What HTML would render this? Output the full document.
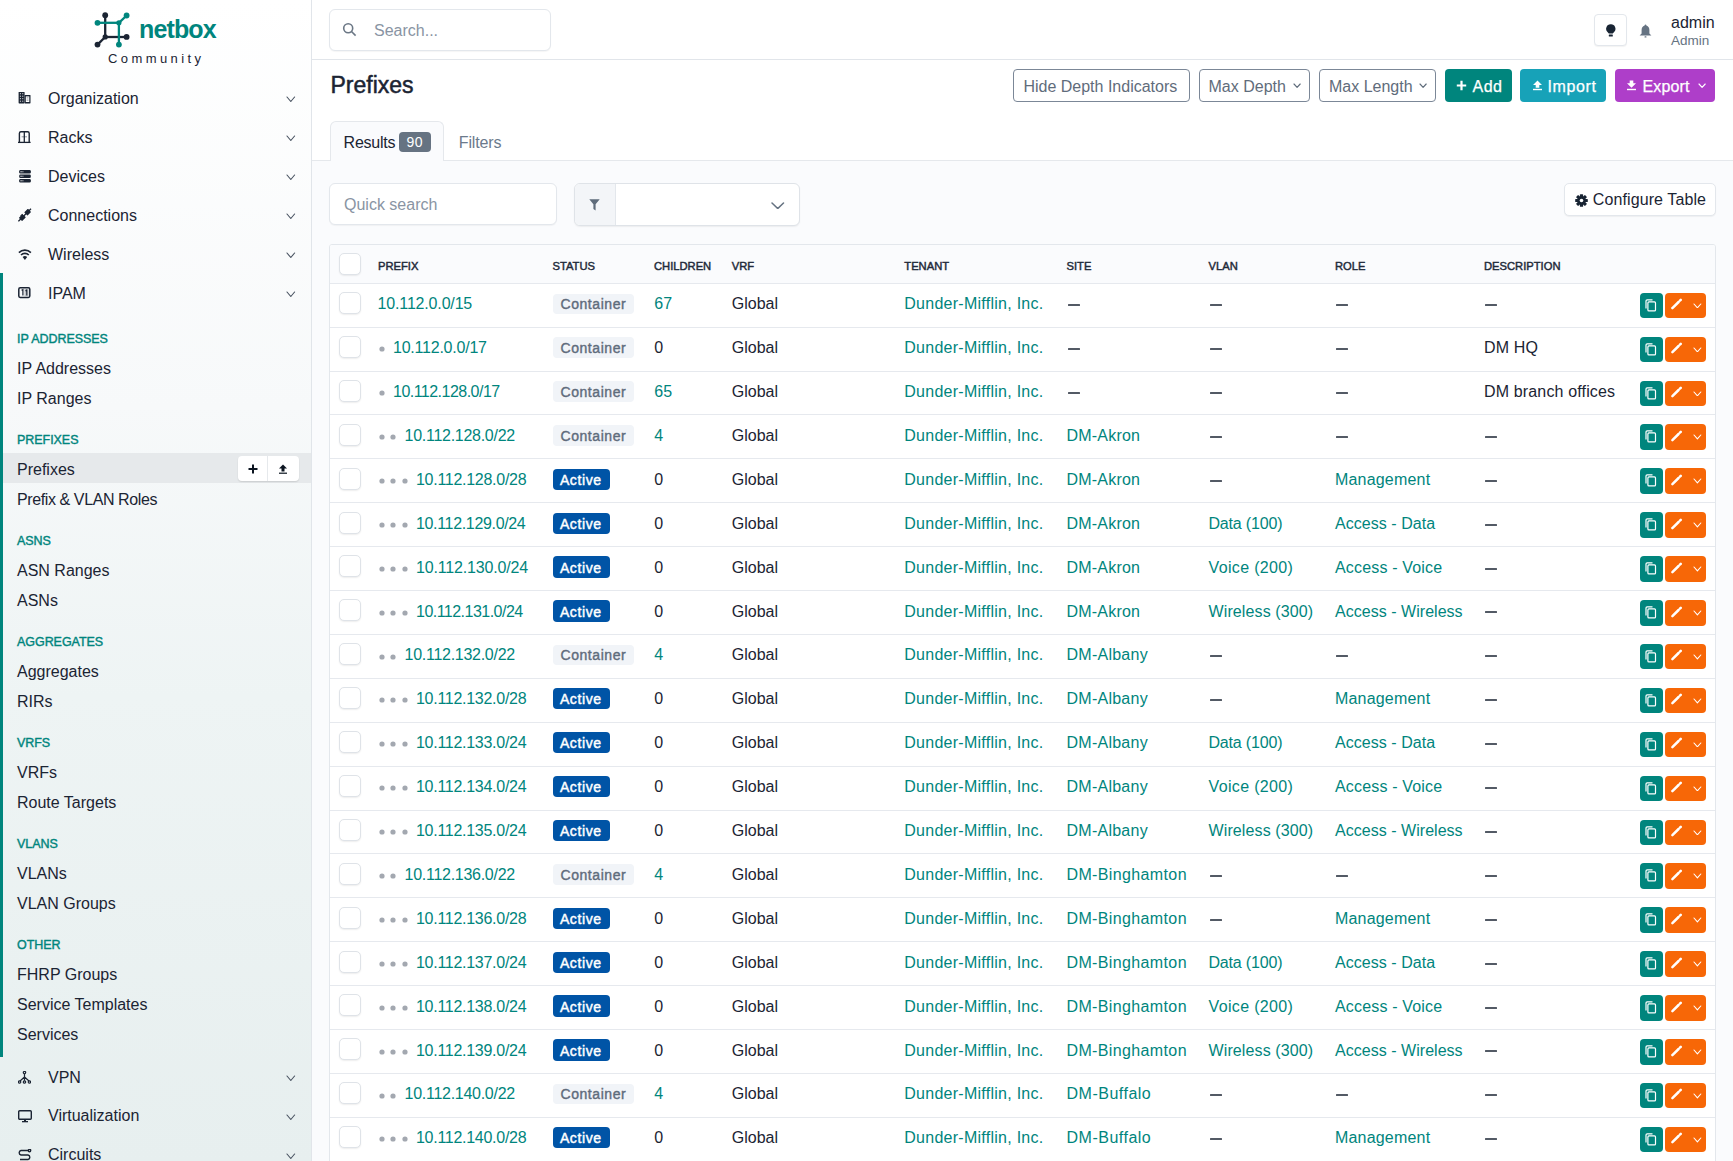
<!DOCTYPE html><html><head><meta charset="utf-8"><style>
html,body{margin:0;padding:0;width:1733px;height:1161px;overflow:hidden;background:#fafbfd;}
body{position:relative;font-family:"Liberation Sans", sans-serif;}
.t{position:absolute;white-space:nowrap;font-family:"Liberation Sans", sans-serif;}
</style></head><body>
<div style="position:absolute;left:312px;top:0px;width:1421px;height:160.5px;background:#ffffff;"></div>
<div style="position:absolute;left:312px;top:59px;width:1421px;height:1px;background:#e1e5ea;"></div>
<div style="position:absolute;left:312px;top:160px;width:1421px;height:1px;background:#e5e8ec;"></div>
<div style="position:absolute;left:0px;top:0px;width:311px;height:1161px;background:linear-gradient(180deg,#ffffff 0%,#f7f9fa 35%,#eef4f4 60%,#e7efef 100%);"></div>
<div style="position:absolute;left:311px;top:0px;width:1px;height:1161px;background:#e1e5ea;"></div>
<div style="position:absolute;left:0px;top:273px;width:3px;height:784px;background:#00857d;"></div>
<div style="position:absolute;left:3px;top:453.2px;width:308px;height:30.3px;background:#e6e9eb;"></div>
<svg style="position:absolute;left:0px;top:0px;" width="311" height="80" viewBox="0 0 311 80">
<g stroke-width="2.3" fill="none">
<line x1="105.2" y1="15" x2="105.2" y2="37" stroke="#1b2433"/>
<line x1="105.2" y1="37" x2="126.6" y2="37" stroke="#1b2433"/>
<line x1="105.2" y1="37" x2="97.5" y2="44.6" stroke="#1b2433"/>
<line x1="97.5" y1="22.8" x2="118.9" y2="22.8" stroke="#00857d"/>
<line x1="118.9" y1="22.8" x2="118.9" y2="44.6" stroke="#00857d"/>
<line x1="118.9" y1="22.8" x2="126.6" y2="15.5" stroke="#00857d"/>
</g>
<circle cx="105.2" cy="15.2" r="2.9" fill="#1b2433"/>
<circle cx="105.2" cy="36.9" r="2.6" fill="#1b2433"/>
<circle cx="126.6" cy="36.9" r="2.9" fill="#1b2433"/>
<circle cx="97.5" cy="44.6" r="2.9" fill="#1b2433"/>
<circle cx="97.5" cy="22.8" r="2.9" fill="#00857d"/>
<circle cx="118.9" cy="22.8" r="2.6" fill="#00857d"/>
<circle cx="126.6" cy="15.5" r="2.9" fill="#00857d"/>
<circle cx="118.9" cy="44.6" r="2.9" fill="#00857d"/>
</svg>
<div class="t" style="left:139px;top:16.60px;font-size:25px;line-height:25px;color:#00857d;font-weight:bold;letter-spacing:-0.85px;">netbox</div>
<div class="t" style="left:108px;top:52.20px;font-size:13px;line-height:13px;color:#1b2433;letter-spacing:3.4px;">Community</div>
<svg style="position:absolute;left:18px;top:92.0px;" width="14" height="12" viewBox="0 0 14 12"><rect x="0.6" y="0" width="6" height="11.4" rx="0.6" fill="#1b2433"/><rect x="6.6" y="3" width="5.9" height="8.4" rx="0.6" fill="#1b2433"/><rect x="7.8" y="4.4" width="3.5" height="5.6" fill="#fff"/><rect x="8.6" y="5.4" width="1.9" height="1" fill="#1b2433" opacity="0.5"/><rect x="8.6" y="7.6" width="1.9" height="1" fill="#1b2433" opacity="0.5"/><rect x="1.9" y="1.2" width="1.1" height="1" fill="#fff" opacity="0.85"/><rect x="1.9" y="3.7" width="1.1" height="1" fill="#fff" opacity="0.85"/><rect x="1.9" y="6.2" width="1.1" height="1" fill="#fff" opacity="0.85"/><rect x="1.9" y="8.7" width="1.1" height="1" fill="#fff" opacity="0.85"/><rect x="4.2" y="1.2" width="1.1" height="1" fill="#fff" opacity="0.85"/><rect x="4.2" y="3.7" width="1.1" height="1" fill="#fff" opacity="0.85"/><rect x="4.2" y="6.2" width="1.1" height="1" fill="#fff" opacity="0.85"/><rect x="4.2" y="8.7" width="1.1" height="1" fill="#fff" opacity="0.85"/></svg>
<div class="t" style="left:48px;top:90.80px;font-size:16px;line-height:16px;color:#1b2433;">Organization</div>
<svg style="position:absolute;left:286px;top:96.2px;" width="9.6" height="6.5" viewBox="0 0 9.6 6.5"><polyline points="1,1 4.8,5.5 8.6,1" fill="none" stroke="#4a5462" stroke-width="1.15" stroke-linecap="round" stroke-linejoin="round"/></svg>
<svg style="position:absolute;left:18.4px;top:131.10000000000002px;" width="13" height="12.5" viewBox="0 0 13 12.5"><path d="M1.4 11.3 V2.2 A1.6 1.6 0 0 1 3 0.7 H9.6 A1.6 1.6 0 0 1 11.2 2.2 V11.3" fill="none" stroke="#1b2433" stroke-width="1.4"/><line x1="6.3" y1="1" x2="6.3" y2="11" stroke="#1b2433" stroke-width="1.3"/><line x1="0" y1="11.4" x2="12.6" y2="11.4" stroke="#1b2433" stroke-width="1.3"/><line x1="3.6" y1="5.8" x2="9" y2="5.8" stroke="#1b2433" stroke-width="0.8" opacity="0.6"/></svg>
<div class="t" style="left:48px;top:129.80px;font-size:16px;line-height:16px;color:#1b2433;">Racks</div>
<svg style="position:absolute;left:286px;top:135.20000000000002px;" width="9.6" height="6.5" viewBox="0 0 9.6 6.5"><polyline points="1,1 4.8,5.5 8.6,1" fill="none" stroke="#4a5462" stroke-width="1.15" stroke-linecap="round" stroke-linejoin="round"/></svg>
<svg style="position:absolute;left:18.8px;top:169.5px;" width="13" height="13" viewBox="0 0 13 13"><rect x="0.2" y="0" width="11.6" height="3.5" rx="1.2" fill="#1b2433"/><rect x="1.4" y="1.2" width="1.4" height="1.1" fill="#fff" opacity="0.8"/><rect x="3.4" y="1.2" width="1" height="1.1" fill="#fff" opacity="0.8"/><rect x="0.2" y="4.5" width="11.6" height="3.5" rx="1.2" fill="#1b2433"/><rect x="1.4" y="5.7" width="1.4" height="1.1" fill="#fff" opacity="0.8"/><rect x="3.4" y="5.7" width="1" height="1.1" fill="#fff" opacity="0.8"/><rect x="0.2" y="9" width="11.6" height="3.5" rx="1.2" fill="#1b2433"/><rect x="1.4" y="10.2" width="1.4" height="1.1" fill="#fff" opacity="0.8"/><rect x="3.4" y="10.2" width="1" height="1.1" fill="#fff" opacity="0.8"/></svg>
<div class="t" style="left:48px;top:168.80px;font-size:16px;line-height:16px;color:#1b2433;">Devices</div>
<svg style="position:absolute;left:286px;top:174.20000000000002px;" width="9.6" height="6.5" viewBox="0 0 9.6 6.5"><polyline points="1,1 4.8,5.5 8.6,1" fill="none" stroke="#4a5462" stroke-width="1.15" stroke-linecap="round" stroke-linejoin="round"/></svg>
<svg style="position:absolute;left:18px;top:207.8px;" width="14" height="14" viewBox="0 0 14 14"><line x1="0.4" y1="13.3" x2="13" y2="0.7" stroke="#1b2433" stroke-width="1.3"/><rect x="-2.3" y="-2.6" width="4.6" height="5.2" rx="0.5" fill="#1b2433" transform="translate(4.3 9.6) rotate(45)"/><rect x="-2.3" y="-2.6" width="4.6" height="5.2" rx="0.5" fill="#1b2433" transform="translate(9.7 4.2) rotate(45)"/><line x1="2.6" y1="8.2" x2="4.6" y2="6.2" stroke="#1b2433" stroke-width="1.2"/><line x1="5" y1="10.6" x2="7" y2="8.6" stroke="#1b2433" stroke-width="1.2"/></svg>
<div class="t" style="left:48px;top:207.80px;font-size:16px;line-height:16px;color:#1b2433;">Connections</div>
<svg style="position:absolute;left:286px;top:213.20000000000002px;" width="9.6" height="6.5" viewBox="0 0 9.6 6.5"><polyline points="1,1 4.8,5.5 8.6,1" fill="none" stroke="#4a5462" stroke-width="1.15" stroke-linecap="round" stroke-linejoin="round"/></svg>
<svg style="position:absolute;left:18px;top:247.5px;" width="14" height="13" viewBox="0 0 14 13"><path d="M0.9 4.6 A8.6 8.6 0 0 1 12.9 4.6" stroke="#1b2433" stroke-width="1.6" fill="none"/><path d="M3 7 A5.4 5.4 0 0 1 10.8 7" stroke="#1b2433" stroke-width="1.6" fill="none"/><path d="M4.6 9 L6.9 11.9 L9.2 9 A3.3 3.3 0 0 0 4.6 9Z" fill="#1b2433"/></svg>
<div class="t" style="left:48px;top:246.80px;font-size:16px;line-height:16px;color:#1b2433;">Wireless</div>
<svg style="position:absolute;left:286px;top:252.20000000000002px;" width="9.6" height="6.5" viewBox="0 0 9.6 6.5"><polyline points="1,1 4.8,5.5 8.6,1" fill="none" stroke="#4a5462" stroke-width="1.15" stroke-linecap="round" stroke-linejoin="round"/></svg>
<svg style="position:absolute;left:18.4px;top:287.1px;" width="13" height="12" viewBox="0 0 13 12"><rect x="0.8" y="0.8" width="11" height="9.6" rx="1.4" fill="none" stroke="#1b2433" stroke-width="1.5"/><path d="M3.5 3.3 L4.9 2.6 V8.6" fill="none" stroke="#1b2433" stroke-width="1.2"/><rect x="6.5" y="2" width="4" height="7.2" fill="#1b2433" opacity="0.25"/><path d="M8.8 2.6 V8.6 M7.6 4.2 L8.8 2.6" fill="none" stroke="#1b2433" stroke-width="1.1"/></svg>
<div class="t" style="left:48px;top:285.80px;font-size:16px;line-height:16px;color:#1b2433;">IPAM</div>
<svg style="position:absolute;left:286px;top:291.2px;" width="9.6" height="6.5" viewBox="0 0 9.6 6.5"><polyline points="1,1 4.8,5.5 8.6,1" fill="none" stroke="#4a5462" stroke-width="1.15" stroke-linecap="round" stroke-linejoin="round"/></svg>
<div class="t" style="left:17px;top:332.70px;font-size:12.5px;line-height:12.5px;color:#00857d;letter-spacing:-0.05px;-webkit-text-stroke:0.4px #00857d;">IP ADDRESSES</div>
<div class="t" style="left:17px;top:360.70px;font-size:16px;line-height:16px;color:#1b2433;letter-spacing:0px;">IP Addresses</div>
<div class="t" style="left:17px;top:390.70px;font-size:16px;line-height:16px;color:#1b2433;letter-spacing:0px;">IP Ranges</div>
<div class="t" style="left:17px;top:433.70px;font-size:12.5px;line-height:12.5px;color:#00857d;letter-spacing:-0.05px;-webkit-text-stroke:0.4px #00857d;">PREFIXES</div>
<div class="t" style="left:17px;top:461.70px;font-size:16px;line-height:16px;color:#1b2433;letter-spacing:0px;">Prefixes</div>
<div class="t" style="left:17px;top:491.70px;font-size:16px;line-height:16px;color:#1b2433;letter-spacing:-0.4px;">Prefix &amp; VLAN Roles</div>
<div class="t" style="left:17px;top:534.70px;font-size:12.5px;line-height:12.5px;color:#00857d;letter-spacing:-0.05px;-webkit-text-stroke:0.4px #00857d;">ASNS</div>
<div class="t" style="left:17px;top:562.70px;font-size:16px;line-height:16px;color:#1b2433;letter-spacing:0px;">ASN Ranges</div>
<div class="t" style="left:17px;top:592.70px;font-size:16px;line-height:16px;color:#1b2433;letter-spacing:0px;">ASNs</div>
<div class="t" style="left:17px;top:635.70px;font-size:12.5px;line-height:12.5px;color:#00857d;letter-spacing:-0.05px;-webkit-text-stroke:0.4px #00857d;">AGGREGATES</div>
<div class="t" style="left:17px;top:663.70px;font-size:16px;line-height:16px;color:#1b2433;letter-spacing:0px;">Aggregates</div>
<div class="t" style="left:17px;top:693.70px;font-size:16px;line-height:16px;color:#1b2433;letter-spacing:0px;">RIRs</div>
<div class="t" style="left:17px;top:736.70px;font-size:12.5px;line-height:12.5px;color:#00857d;letter-spacing:-0.05px;-webkit-text-stroke:0.4px #00857d;">VRFS</div>
<div class="t" style="left:17px;top:764.70px;font-size:16px;line-height:16px;color:#1b2433;letter-spacing:0px;">VRFs</div>
<div class="t" style="left:17px;top:794.70px;font-size:16px;line-height:16px;color:#1b2433;letter-spacing:0px;">Route Targets</div>
<div class="t" style="left:17px;top:837.70px;font-size:12.5px;line-height:12.5px;color:#00857d;letter-spacing:-0.05px;-webkit-text-stroke:0.4px #00857d;">VLANS</div>
<div class="t" style="left:17px;top:865.70px;font-size:16px;line-height:16px;color:#1b2433;letter-spacing:0px;">VLANs</div>
<div class="t" style="left:17px;top:895.70px;font-size:16px;line-height:16px;color:#1b2433;letter-spacing:0px;">VLAN Groups</div>
<div class="t" style="left:17px;top:938.70px;font-size:12.5px;line-height:12.5px;color:#00857d;letter-spacing:-0.05px;-webkit-text-stroke:0.4px #00857d;">OTHER</div>
<div class="t" style="left:17px;top:966.70px;font-size:16px;line-height:16px;color:#1b2433;letter-spacing:0px;">FHRP Groups</div>
<div class="t" style="left:17px;top:996.70px;font-size:16px;line-height:16px;color:#1b2433;letter-spacing:0px;">Service Templates</div>
<div class="t" style="left:17px;top:1026.70px;font-size:16px;line-height:16px;color:#1b2433;letter-spacing:0px;">Services</div>
<div style="position:absolute;left:237.8px;top:455.9px;width:60.8px;height:25.1px;background:#fff;border-radius:4px;box-shadow:0 1px 1.5px rgba(0,0,0,0.12);"></div>
<div style="position:absolute;left:267.3px;top:455.9px;width:1px;height:25.1px;background:#e6e9ec;"></div>
<svg style="position:absolute;left:247.5px;top:463.5px;" width="10" height="10" viewBox="0 0 10 10"><path d="M5 0.5V9.5M0.5 5H9.5" stroke="#0b1420" stroke-width="2"/></svg>
<svg style="position:absolute;left:278px;top:463.5px;" width="10" height="10" viewBox="0 0 10 10"><path d="M5 0.5 L9 4.5 H6.5 V7.5 H3.5 V4.5 H1Z" fill="#0b1420"/><rect x="1" y="8.6" width="8" height="1.2" fill="#0b1420"/></svg>
<svg style="position:absolute;left:18px;top:1071.4px;" width="13" height="13" viewBox="0 0 13 13"><g stroke="#1b2433" stroke-width="1.2" fill="none"><circle cx="6.5" cy="1.6" r="1.2"/><circle cx="1.6" cy="11" r="1.2"/><circle cx="6.5" cy="11" r="1.2"/><circle cx="11.4" cy="11" r="1.2"/><path d="M6.5 2.8 L6.5 6 M6.5 6 L2 10 M6.5 6 L11 10 M6.5 6 L6.5 9.8"/></g></svg>
<div class="t" style="left:48px;top:1069.90px;font-size:16px;line-height:16px;color:#1b2433;">VPN</div>
<svg style="position:absolute;left:286px;top:1075.3000000000002px;" width="9.6" height="6.5" viewBox="0 0 9.6 6.5"><polyline points="1,1 4.8,5.5 8.6,1" fill="none" stroke="#4a5462" stroke-width="1.15" stroke-linecap="round" stroke-linejoin="round"/></svg>
<svg style="position:absolute;left:18px;top:1109.9px;" width="14" height="13" viewBox="0 0 14 13"><rect x="0.7" y="0.7" width="12.6" height="8.6" rx="1" fill="none" stroke="#1b2433" stroke-width="1.4"/><rect x="6" y="9.5" width="2" height="1.8" fill="#1b2433"/><rect x="4" y="11" width="6" height="1.3" fill="#1b2433"/></svg>
<div class="t" style="left:48px;top:1108.40px;font-size:16px;line-height:16px;color:#1b2433;">Virtualization</div>
<svg style="position:absolute;left:286px;top:1113.8000000000002px;" width="9.6" height="6.5" viewBox="0 0 9.6 6.5"><polyline points="1,1 4.8,5.5 8.6,1" fill="none" stroke="#4a5462" stroke-width="1.15" stroke-linecap="round" stroke-linejoin="round"/></svg>
<svg style="position:absolute;left:18px;top:1148.9px;" width="14" height="13" viewBox="0 0 14 13"><g stroke="#1b2433" stroke-width="1.4" fill="none"><path d="M11 1.5 H3 A2.3 2.3 0 0 0 3 6 H10 A2.3 2.3 0 0 1 10 10.5 H2"/><circle cx="11.5" cy="1.5" r="1.2"/></g></svg>
<div class="t" style="left:48px;top:1147.40px;font-size:16px;line-height:16px;color:#1b2433;">Circuits</div>
<svg style="position:absolute;left:286px;top:1152.8000000000002px;" width="9.6" height="6.5" viewBox="0 0 9.6 6.5"><polyline points="1,1 4.8,5.5 8.6,1" fill="none" stroke="#4a5462" stroke-width="1.15" stroke-linecap="round" stroke-linejoin="round"/></svg>
<div style="position:absolute;left:329px;top:9.3px;width:222px;height:42px;background:#fff;border:1px solid #e3e7ec;border-radius:6px;box-sizing:border-box;box-shadow:0 1px 1px rgba(0,0,0,0.04);"></div>
<svg style="position:absolute;left:342px;top:22px;" width="15" height="15" viewBox="0 0 15 15"><circle cx="6.2" cy="6.2" r="4.5" stroke="#6b7785" stroke-width="1.6" fill="none"/><line x1="9.5" y1="9.5" x2="13.6" y2="13.6" stroke="#6b7785" stroke-width="1.6"/></svg>
<div class="t" style="left:374px;top:22.50px;font-size:16px;line-height:16px;color:#8994a3;">Search...</div>
<div style="position:absolute;left:1593.7px;top:14.4px;width:33.1px;height:32px;background:#fff;border:1px solid #e3e7ec;border-radius:4px;box-sizing:border-box;box-shadow:0 1px 1px rgba(0,0,0,0.05);"></div>
<svg style="position:absolute;left:1605.5px;top:23.5px;" width="10" height="14" viewBox="0 0 10 14"><path d="M4.8 0.3 A4.5 4.5 0 0 0 1.7 8.2 L2.8 9.6 H6.8 L7.9 8.2 A4.5 4.5 0 0 0 4.8 0.3Z" fill="#182433"/><rect x="2.8" y="10.6" width="4" height="1.8" rx="0.5" fill="#182433"/></svg>
<svg style="position:absolute;left:1638.5px;top:23.5px;" width="13" height="14" viewBox="0 0 13 14"><path d="M6.5 0.5 C6 0.5 5.7 1 5.6 1.5 C3.5 2.2 2.6 4 2.6 6 V9.5 L0.6 11.5 H12.4 L10.4 9.5 V6 C10.4 4 9.5 2.2 7.4 1.5 C7.3 1 7 0.5 6.5 0.5Z" fill="#667382"/><rect x="5.5" y="12.2" width="2" height="1.3" rx="0.6" fill="#667382"/></svg>
<div class="t" style="left:1671px;top:15.10px;font-size:16px;line-height:16px;color:#1b2433;">admin</div>
<div class="t" style="left:1671px;top:34.20px;font-size:13.5px;line-height:13.5px;color:#667382;">Admin</div>
<div class="t" style="left:330.5px;top:73.80px;font-size:23px;line-height:23px;color:#1b2433;-webkit-text-stroke:0.5px #1b2433;">Prefixes</div>
<div style="position:absolute;left:1013.4px;top:69.4px;width:176.2px;height:32.2px;border:1px solid #7b8797;border-radius:4px;box-sizing:border-box;background:#fff;"></div>
<div class="t" style="left:1023.4px;top:78.50px;font-size:16px;line-height:16px;color:#5f6c7b;">Hide Depth Indicators</div>
<div style="position:absolute;left:1198.5px;top:69.4px;width:111.1px;height:32.2px;border:1px solid #7b8797;border-radius:4px;box-sizing:border-box;background:#fff;"></div>
<div class="t" style="left:1208.5px;top:78.50px;font-size:16px;line-height:16px;color:#5f6c7b;">Max Depth</div>
<svg style="position:absolute;left:1292.6px;top:83.2px;" width="8.2" height="5.4" viewBox="0 0 8.2 5.4"><polyline points="1,1 4.1,4.4 7.2,1" fill="none" stroke="#5f6c7b" stroke-width="1.15" stroke-linecap="round" stroke-linejoin="round"/></svg>
<div style="position:absolute;left:1319px;top:69.4px;width:117px;height:32.2px;border:1px solid #7b8797;border-radius:4px;box-sizing:border-box;background:#fff;"></div>
<div class="t" style="left:1329px;top:78.50px;font-size:16px;line-height:16px;color:#5f6c7b;">Max Length</div>
<svg style="position:absolute;left:1419px;top:83.2px;" width="8.2" height="5.4" viewBox="0 0 8.2 5.4"><polyline points="1,1 4.1,4.4 7.2,1" fill="none" stroke="#5f6c7b" stroke-width="1.15" stroke-linecap="round" stroke-linejoin="round"/></svg>
<div style="position:absolute;left:1445px;top:69.1px;width:67px;height:32.5px;background:#00857d;border-radius:4px;"></div>
<svg style="position:absolute;left:1456px;top:80px;" width="11" height="11" viewBox="0 0 11 11"><path d="M5.5 0.8V10.2M0.8 5.5H10.2" stroke="#fff" stroke-width="2.2"/></svg>
<div class="t" style="left:1472.5px;top:78.50px;font-size:16px;line-height:16px;color:#fff;letter-spacing:0.5px;-webkit-text-stroke:0.25px #fff;">Add</div>
<div style="position:absolute;left:1520.1px;top:69.1px;width:86px;height:32.5px;background:#17a2b8;border-radius:4px;"></div>
<svg style="position:absolute;left:1532px;top:80px;" width="11" height="11" viewBox="0 0 11 11"><path d="M5.5 0.5 L10 5 H7.3 V7.7 H3.7 V5 H1Z" fill="#fff"/><rect x="1" y="8.8" width="9" height="1.4" fill="#fff"/></svg>
<div class="t" style="left:1547.5px;top:78.50px;font-size:16px;line-height:16px;color:#fff;letter-spacing:0.6px;-webkit-text-stroke:0.25px #fff;">Import</div>
<div style="position:absolute;left:1615px;top:69.1px;width:100px;height:32.5px;background:#ae3ec9;border-radius:4px;"></div>
<svg style="position:absolute;left:1626px;top:80px;" width="11" height="11" viewBox="0 0 11 11"><path d="M5.5 7.7 L10 3.2 H7.3 V0.5 H3.7 V3.2 H1Z" fill="#fff"/><rect x="1" y="8.8" width="9" height="1.4" fill="#fff"/></svg>
<div class="t" style="left:1642.5px;top:78.50px;font-size:16px;line-height:16px;color:#fff;letter-spacing:0.15px;-webkit-text-stroke:0.25px #fff;">Export</div>
<svg style="position:absolute;left:1697.5px;top:83.3px;" width="8.2" height="5.4" viewBox="0 0 8.2 5.4"><polyline points="1,1 4.1,4.4 7.2,1" fill="none" stroke="#ffffff" stroke-width="1.15" stroke-linecap="round" stroke-linejoin="round"/></svg>
<div style="position:absolute;left:329.6px;top:121.2px;width:114.9px;height:40px;background:#fafbfd;border:1px solid #e5e8ec;border-bottom:none;border-radius:6px 6px 0 0;box-sizing:border-box;"></div>
<div class="t" style="left:343.6px;top:134.60px;font-size:16px;line-height:16px;color:#1b2433;letter-spacing:-0.25px;">Results</div>
<div style="position:absolute;left:398.6px;top:131.6px;width:32.3px;height:20.3px;background:#667382;border-radius:4px;"></div>
<div class="t" style="left:406.5px;top:135.00px;font-size:14px;line-height:14px;color:#fff;letter-spacing:0.5px;">90</div>
<div class="t" style="left:458.8px;top:134.60px;font-size:16px;line-height:16px;color:#6b7a8c;letter-spacing:-0.15px;">Filters</div>
<div style="position:absolute;left:329px;top:183.3px;width:227.5px;height:42px;background:#fff;border:1px solid #e3e7ec;border-radius:6px;box-sizing:border-box;box-shadow:0 1px 1px rgba(0,0,0,0.04);"></div>
<div class="t" style="left:344px;top:196.50px;font-size:16px;line-height:16px;color:#8994a3;">Quick search</div>
<div style="position:absolute;left:574px;top:183.3px;width:225.6px;height:43.2px;background:#fff;border:1px solid #dfe3e8;border-radius:6px;box-sizing:border-box;box-shadow:0 1px 1.5px rgba(0,0,0,0.06);overflow:hidden;"></div>
<div style="position:absolute;left:575px;top:184.3px;width:40px;height:41.2px;background:#f3f5f8;border-radius:5px 0 0 5px;"></div>
<div style="position:absolute;left:615px;top:184.3px;width:1px;height:41.2px;background:#e3e7ec;"></div>
<svg style="position:absolute;left:589.3px;top:198.8px;" width="11" height="12" viewBox="0 0 11 12"><path d="M0.3 0.3 H10.7 L6.6 5.2 V11.5 L4.4 10 V5.2Z" fill="#5f6c7b"/></svg>
<svg style="position:absolute;left:771px;top:201.6px;" width="13.5" height="7.6" viewBox="0 0 13.5 7.6"><polyline points="1,1 6.75,6.6 12.5,1" fill="none" stroke="#667382" stroke-width="1.5" stroke-linecap="round" stroke-linejoin="round"/></svg>
<div style="position:absolute;left:1564px;top:183px;width:152px;height:32.8px;background:#fff;border:1px solid #e3e7ec;border-radius:5px;box-sizing:border-box;box-shadow:0 1px 1px rgba(0,0,0,0.05);"></div>
<svg style="position:absolute;left:1575px;top:193.5px;" width="13" height="13" viewBox="0 0 13 13"><g transform="translate(6.5 6.5)" fill="#182433"><circle r="4.3"/><rect x="-1.6" y="-6.3" width="3.2" height="3" rx="0.6" transform="rotate(0)"/><rect x="-1.6" y="-6.3" width="3.2" height="3" rx="0.6" transform="rotate(45)"/><rect x="-1.6" y="-6.3" width="3.2" height="3" rx="0.6" transform="rotate(90)"/><rect x="-1.6" y="-6.3" width="3.2" height="3" rx="0.6" transform="rotate(135)"/><rect x="-1.6" y="-6.3" width="3.2" height="3" rx="0.6" transform="rotate(180)"/><rect x="-1.6" y="-6.3" width="3.2" height="3" rx="0.6" transform="rotate(225)"/><rect x="-1.6" y="-6.3" width="3.2" height="3" rx="0.6" transform="rotate(270)"/><rect x="-1.6" y="-6.3" width="3.2" height="3" rx="0.6" transform="rotate(315)"/><circle r="1.8" fill="#fff"/></g></svg>
<div class="t" style="left:1592.8px;top:191.90px;font-size:16px;line-height:16px;color:#1b2433;letter-spacing:0.1px;">Configure Table</div>
<div style="position:absolute;left:329px;top:244px;width:1387px;height:922px;background:#fff;border:1px solid #e3e7ec;border-radius:3px 3px 0 0;box-sizing:border-box;"></div>
<div style="position:absolute;left:330px;top:245px;width:1385px;height:38.19999999999999px;background:#fafbfd;border-radius:2px 2px 0 0;"></div>
<div style="position:absolute;left:338.5px;top:253px;width:22px;height:22px;background:#fff;border:1px solid #dfe3e8;border-radius:5px;box-sizing:border-box;box-shadow:0 1px 1.5px rgba(0,0,0,0.07);"></div>
<div class="t" style="left:378px;top:261.20px;font-size:11.2px;line-height:11.2px;color:#1f2a3a;letter-spacing:0px;-webkit-text-stroke:0.45px #1f2a3a;">PREFIX</div>
<div class="t" style="left:552.5px;top:261.20px;font-size:11.2px;line-height:11.2px;color:#1f2a3a;letter-spacing:0px;-webkit-text-stroke:0.45px #1f2a3a;">STATUS</div>
<div class="t" style="left:654px;top:261.20px;font-size:11.2px;line-height:11.2px;color:#1f2a3a;letter-spacing:0px;-webkit-text-stroke:0.45px #1f2a3a;">CHILDREN</div>
<div class="t" style="left:731.8px;top:261.20px;font-size:11.2px;line-height:11.2px;color:#1f2a3a;letter-spacing:0px;-webkit-text-stroke:0.45px #1f2a3a;">VRF</div>
<div class="t" style="left:904.3px;top:261.20px;font-size:11.2px;line-height:11.2px;color:#1f2a3a;letter-spacing:0px;-webkit-text-stroke:0.45px #1f2a3a;">TENANT</div>
<div class="t" style="left:1066.5px;top:261.20px;font-size:11.2px;line-height:11.2px;color:#1f2a3a;letter-spacing:0px;-webkit-text-stroke:0.45px #1f2a3a;">SITE</div>
<div class="t" style="left:1208.5px;top:261.20px;font-size:11.2px;line-height:11.2px;color:#1f2a3a;letter-spacing:0px;-webkit-text-stroke:0.45px #1f2a3a;">VLAN</div>
<div class="t" style="left:1335px;top:261.20px;font-size:11.2px;line-height:11.2px;color:#1f2a3a;letter-spacing:0px;-webkit-text-stroke:0.45px #1f2a3a;">ROLE</div>
<div class="t" style="left:1484px;top:261.20px;font-size:11.2px;line-height:11.2px;color:#1f2a3a;letter-spacing:0px;-webkit-text-stroke:0.45px #1f2a3a;">DESCRIPTION</div>
<div style="position:absolute;left:330px;top:282.7px;width:1385px;height:1px;background:#e6e9ee;"></div>
<div style="position:absolute;left:338.5px;top:292.0px;width:22px;height:22px;background:#fff;border:1px solid #dfe3e8;border-radius:5px;box-sizing:border-box;box-shadow:0 1px 1.5px rgba(0,0,0,0.07);"></div>
<div class="t" style="left:377.6px;top:296.20px;font-size:16px;line-height:16px;color:#00857d;letter-spacing:-0.167px;">10.112.0.0/15</div>
<div style="position:absolute;left:552.9px;top:293.5px;width:81px;height:20.6px;background:#f1f4f8;border-radius:4px;"></div>
<div class="t" style="left:560.5px;top:297.20px;font-size:14px;line-height:14px;color:#5f6c7c;letter-spacing:0.56px;-webkit-text-stroke:0.4px #5f6c7c;">Container</div>
<div class="t" style="left:654.3px;top:296.20px;font-size:16px;line-height:16px;color:#00857d;">67</div>
<div class="t" style="left:731.8px;top:296.20px;font-size:16px;line-height:16px;color:#1b2433;">Global</div>
<div class="t" style="left:904.3px;top:296.20px;font-size:16px;line-height:16px;color:#00857d;letter-spacing:0.26px;">Dunder-Mifflin, Inc.</div>
<svg style="position:absolute;left:1067.5px;top:303.09999999999997px;" width="12" height="4" viewBox="0 0 12 4"><line x1="0.6" y1="2" x2="11.4" y2="2" stroke="#1b2433" stroke-width="1.4" stroke-linecap="round"/></svg>
<svg style="position:absolute;left:1209.5px;top:303.09999999999997px;" width="12" height="4" viewBox="0 0 12 4"><line x1="0.6" y1="2" x2="11.4" y2="2" stroke="#1b2433" stroke-width="1.4" stroke-linecap="round"/></svg>
<svg style="position:absolute;left:1336px;top:303.09999999999997px;" width="12" height="4" viewBox="0 0 12 4"><line x1="0.6" y1="2" x2="11.4" y2="2" stroke="#1b2433" stroke-width="1.4" stroke-linecap="round"/></svg>
<svg style="position:absolute;left:1485px;top:303.09999999999997px;" width="12" height="4" viewBox="0 0 12 4"><line x1="0.6" y1="2" x2="11.4" y2="2" stroke="#1b2433" stroke-width="1.4" stroke-linecap="round"/></svg>
<div style="position:absolute;left:1639.5px;top:292.7px;width:23px;height:25.6px;background:#00857d;border-radius:4px;"></div>
<svg style="position:absolute;left:1645px;top:298.7px;" width="12" height="13" viewBox="0 0 12 13"><g fill="none" stroke="#fff" stroke-width="1.2"><path d="M1 9.5 V2 A1.2 1.2 0 0 1 2.2 0.8 H7.5"/><rect x="2.9" y="2.9" width="7.6" height="9" rx="1"/></g></svg>
<div style="position:absolute;left:1665.4px;top:292.7px;width:41px;height:25.6px;background:#f76707;border-radius:4px;"></div>
<svg style="position:absolute;left:1670px;top:298.2px;" width="14" height="12" viewBox="0 0 14 12"><path d="M2.4 10.2 L8.6 4.0" stroke="#fff" stroke-width="2.5" stroke-linecap="round"/><path d="M9.9 2.7 L10.8 1.8" stroke="#fff" stroke-width="2.5" stroke-linecap="round"/></svg>
<svg style="position:absolute;left:1693px;top:302.7px;" width="8.8" height="5.8" viewBox="0 0 8.8 5.8"><polyline points="1,1 4.4,4.8 7.8,1" fill="none" stroke="#ffffff" stroke-width="1.1" stroke-linecap="round" stroke-linejoin="round"/></svg>
<div style="position:absolute;left:330px;top:326.59999999999997px;width:1385px;height:1px;background:#e6e9ee;"></div>
<div style="position:absolute;left:338.5px;top:335.9px;width:22px;height:22px;background:#fff;border:1px solid #dfe3e8;border-radius:5px;box-sizing:border-box;box-shadow:0 1px 1.5px rgba(0,0,0,0.07);"></div>
<svg style="position:absolute;left:378.9px;top:346.19999999999993px;" width="6" height="6" viewBox="0 0 6 6"><circle cx="3" cy="3" r="2.6" fill="#a3a8b0"/></svg>
<div class="t" style="left:393px;top:340.10px;font-size:16px;line-height:16px;color:#00857d;letter-spacing:-0.225px;">10.112.0.0/17</div>
<div style="position:absolute;left:552.9px;top:337.4px;width:81px;height:20.6px;background:#f1f4f8;border-radius:4px;"></div>
<div class="t" style="left:560.5px;top:341.10px;font-size:14px;line-height:14px;color:#5f6c7c;letter-spacing:0.56px;-webkit-text-stroke:0.4px #5f6c7c;">Container</div>
<div class="t" style="left:654.3px;top:340.10px;font-size:16px;line-height:16px;color:#1b2433;">0</div>
<div class="t" style="left:731.8px;top:340.10px;font-size:16px;line-height:16px;color:#1b2433;">Global</div>
<div class="t" style="left:904.3px;top:340.10px;font-size:16px;line-height:16px;color:#00857d;letter-spacing:0.26px;">Dunder-Mifflin, Inc.</div>
<svg style="position:absolute;left:1067.5px;top:346.99999999999994px;" width="12" height="4" viewBox="0 0 12 4"><line x1="0.6" y1="2" x2="11.4" y2="2" stroke="#1b2433" stroke-width="1.4" stroke-linecap="round"/></svg>
<svg style="position:absolute;left:1209.5px;top:346.99999999999994px;" width="12" height="4" viewBox="0 0 12 4"><line x1="0.6" y1="2" x2="11.4" y2="2" stroke="#1b2433" stroke-width="1.4" stroke-linecap="round"/></svg>
<svg style="position:absolute;left:1336px;top:346.99999999999994px;" width="12" height="4" viewBox="0 0 12 4"><line x1="0.6" y1="2" x2="11.4" y2="2" stroke="#1b2433" stroke-width="1.4" stroke-linecap="round"/></svg>
<div class="t" style="left:1484px;top:340.10px;font-size:16px;line-height:16px;color:#1b2433;letter-spacing:0.15px;">DM HQ</div>
<div style="position:absolute;left:1639.5px;top:336.59999999999997px;width:23px;height:25.6px;background:#00857d;border-radius:4px;"></div>
<svg style="position:absolute;left:1645px;top:342.59999999999997px;" width="12" height="13" viewBox="0 0 12 13"><g fill="none" stroke="#fff" stroke-width="1.2"><path d="M1 9.5 V2 A1.2 1.2 0 0 1 2.2 0.8 H7.5"/><rect x="2.9" y="2.9" width="7.6" height="9" rx="1"/></g></svg>
<div style="position:absolute;left:1665.4px;top:336.59999999999997px;width:41px;height:25.6px;background:#f76707;border-radius:4px;"></div>
<svg style="position:absolute;left:1670px;top:342.09999999999997px;" width="14" height="12" viewBox="0 0 14 12"><path d="M2.4 10.2 L8.6 4.0" stroke="#fff" stroke-width="2.5" stroke-linecap="round"/><path d="M9.9 2.7 L10.8 1.8" stroke="#fff" stroke-width="2.5" stroke-linecap="round"/></svg>
<svg style="position:absolute;left:1693px;top:346.59999999999997px;" width="8.8" height="5.8" viewBox="0 0 8.8 5.8"><polyline points="1,1 4.4,4.8 7.8,1" fill="none" stroke="#ffffff" stroke-width="1.1" stroke-linecap="round" stroke-linejoin="round"/></svg>
<div style="position:absolute;left:330px;top:370.5px;width:1385px;height:1px;background:#e6e9ee;"></div>
<div style="position:absolute;left:338.5px;top:379.8px;width:22px;height:22px;background:#fff;border:1px solid #dfe3e8;border-radius:5px;box-sizing:border-box;box-shadow:0 1px 1.5px rgba(0,0,0,0.07);"></div>
<svg style="position:absolute;left:378.9px;top:390.09999999999997px;" width="6" height="6" viewBox="0 0 6 6"><circle cx="3" cy="3" r="2.6" fill="#a3a8b0"/></svg>
<div class="t" style="left:393px;top:384.00px;font-size:16px;line-height:16px;color:#00857d;letter-spacing:-0.521px;">10.112.128.0/17</div>
<div style="position:absolute;left:552.9px;top:381.3px;width:81px;height:20.6px;background:#f1f4f8;border-radius:4px;"></div>
<div class="t" style="left:560.5px;top:385.00px;font-size:14px;line-height:14px;color:#5f6c7c;letter-spacing:0.56px;-webkit-text-stroke:0.4px #5f6c7c;">Container</div>
<div class="t" style="left:654.3px;top:384.00px;font-size:16px;line-height:16px;color:#00857d;">65</div>
<div class="t" style="left:731.8px;top:384.00px;font-size:16px;line-height:16px;color:#1b2433;">Global</div>
<div class="t" style="left:904.3px;top:384.00px;font-size:16px;line-height:16px;color:#00857d;letter-spacing:0.26px;">Dunder-Mifflin, Inc.</div>
<svg style="position:absolute;left:1067.5px;top:390.9px;" width="12" height="4" viewBox="0 0 12 4"><line x1="0.6" y1="2" x2="11.4" y2="2" stroke="#1b2433" stroke-width="1.4" stroke-linecap="round"/></svg>
<svg style="position:absolute;left:1209.5px;top:390.9px;" width="12" height="4" viewBox="0 0 12 4"><line x1="0.6" y1="2" x2="11.4" y2="2" stroke="#1b2433" stroke-width="1.4" stroke-linecap="round"/></svg>
<svg style="position:absolute;left:1336px;top:390.9px;" width="12" height="4" viewBox="0 0 12 4"><line x1="0.6" y1="2" x2="11.4" y2="2" stroke="#1b2433" stroke-width="1.4" stroke-linecap="round"/></svg>
<div class="t" style="left:1484px;top:384.00px;font-size:16px;line-height:16px;color:#1b2433;letter-spacing:0.15px;">DM branch offices</div>
<div style="position:absolute;left:1639.5px;top:380.5px;width:23px;height:25.6px;background:#00857d;border-radius:4px;"></div>
<svg style="position:absolute;left:1645px;top:386.5px;" width="12" height="13" viewBox="0 0 12 13"><g fill="none" stroke="#fff" stroke-width="1.2"><path d="M1 9.5 V2 A1.2 1.2 0 0 1 2.2 0.8 H7.5"/><rect x="2.9" y="2.9" width="7.6" height="9" rx="1"/></g></svg>
<div style="position:absolute;left:1665.4px;top:380.5px;width:41px;height:25.6px;background:#f76707;border-radius:4px;"></div>
<svg style="position:absolute;left:1670px;top:386.0px;" width="14" height="12" viewBox="0 0 14 12"><path d="M2.4 10.2 L8.6 4.0" stroke="#fff" stroke-width="2.5" stroke-linecap="round"/><path d="M9.9 2.7 L10.8 1.8" stroke="#fff" stroke-width="2.5" stroke-linecap="round"/></svg>
<svg style="position:absolute;left:1693px;top:390.5px;" width="8.8" height="5.8" viewBox="0 0 8.8 5.8"><polyline points="1,1 4.4,4.8 7.8,1" fill="none" stroke="#ffffff" stroke-width="1.1" stroke-linecap="round" stroke-linejoin="round"/></svg>
<div style="position:absolute;left:330px;top:414.4px;width:1385px;height:1px;background:#e6e9ee;"></div>
<div style="position:absolute;left:338.5px;top:423.7px;width:22px;height:22px;background:#fff;border:1px solid #dfe3e8;border-radius:5px;box-sizing:border-box;box-shadow:0 1px 1.5px rgba(0,0,0,0.07);"></div>
<svg style="position:absolute;left:378.9px;top:433.99999999999994px;" width="6" height="6" viewBox="0 0 6 6"><circle cx="3" cy="3" r="2.6" fill="#a3a8b0"/></svg>
<svg style="position:absolute;left:390.34999999999997px;top:433.99999999999994px;" width="6" height="6" viewBox="0 0 6 6"><circle cx="3" cy="3" r="2.6" fill="#a3a8b0"/></svg>
<div class="t" style="left:404.6px;top:427.90px;font-size:16px;line-height:16px;color:#00857d;letter-spacing:-0.279px;">10.112.128.0/22</div>
<div style="position:absolute;left:552.9px;top:425.2px;width:81px;height:20.6px;background:#f1f4f8;border-radius:4px;"></div>
<div class="t" style="left:560.5px;top:428.90px;font-size:14px;line-height:14px;color:#5f6c7c;letter-spacing:0.56px;-webkit-text-stroke:0.4px #5f6c7c;">Container</div>
<div class="t" style="left:654.3px;top:427.90px;font-size:16px;line-height:16px;color:#00857d;">4</div>
<div class="t" style="left:731.8px;top:427.90px;font-size:16px;line-height:16px;color:#1b2433;">Global</div>
<div class="t" style="left:904.3px;top:427.90px;font-size:16px;line-height:16px;color:#00857d;letter-spacing:0.26px;">Dunder-Mifflin, Inc.</div>
<div class="t" style="left:1066.5px;top:427.90px;font-size:16px;line-height:16px;color:#00857d;letter-spacing:0.2px;">DM-Akron</div>
<svg style="position:absolute;left:1209.5px;top:434.79999999999995px;" width="12" height="4" viewBox="0 0 12 4"><line x1="0.6" y1="2" x2="11.4" y2="2" stroke="#1b2433" stroke-width="1.4" stroke-linecap="round"/></svg>
<svg style="position:absolute;left:1336px;top:434.79999999999995px;" width="12" height="4" viewBox="0 0 12 4"><line x1="0.6" y1="2" x2="11.4" y2="2" stroke="#1b2433" stroke-width="1.4" stroke-linecap="round"/></svg>
<svg style="position:absolute;left:1485px;top:434.79999999999995px;" width="12" height="4" viewBox="0 0 12 4"><line x1="0.6" y1="2" x2="11.4" y2="2" stroke="#1b2433" stroke-width="1.4" stroke-linecap="round"/></svg>
<div style="position:absolute;left:1639.5px;top:424.4px;width:23px;height:25.6px;background:#00857d;border-radius:4px;"></div>
<svg style="position:absolute;left:1645px;top:430.4px;" width="12" height="13" viewBox="0 0 12 13"><g fill="none" stroke="#fff" stroke-width="1.2"><path d="M1 9.5 V2 A1.2 1.2 0 0 1 2.2 0.8 H7.5"/><rect x="2.9" y="2.9" width="7.6" height="9" rx="1"/></g></svg>
<div style="position:absolute;left:1665.4px;top:424.4px;width:41px;height:25.6px;background:#f76707;border-radius:4px;"></div>
<svg style="position:absolute;left:1670px;top:429.9px;" width="14" height="12" viewBox="0 0 14 12"><path d="M2.4 10.2 L8.6 4.0" stroke="#fff" stroke-width="2.5" stroke-linecap="round"/><path d="M9.9 2.7 L10.8 1.8" stroke="#fff" stroke-width="2.5" stroke-linecap="round"/></svg>
<svg style="position:absolute;left:1693px;top:434.4px;" width="8.8" height="5.8" viewBox="0 0 8.8 5.8"><polyline points="1,1 4.4,4.8 7.8,1" fill="none" stroke="#ffffff" stroke-width="1.1" stroke-linecap="round" stroke-linejoin="round"/></svg>
<div style="position:absolute;left:330px;top:458.29999999999995px;width:1385px;height:1px;background:#e6e9ee;"></div>
<div style="position:absolute;left:338.5px;top:467.59999999999997px;width:22px;height:22px;background:#fff;border:1px solid #dfe3e8;border-radius:5px;box-sizing:border-box;box-shadow:0 1px 1.5px rgba(0,0,0,0.07);"></div>
<svg style="position:absolute;left:378.9px;top:477.8999999999999px;" width="6" height="6" viewBox="0 0 6 6"><circle cx="3" cy="3" r="2.6" fill="#a3a8b0"/></svg>
<svg style="position:absolute;left:390.34999999999997px;top:477.8999999999999px;" width="6" height="6" viewBox="0 0 6 6"><circle cx="3" cy="3" r="2.6" fill="#a3a8b0"/></svg>
<svg style="position:absolute;left:401.79999999999995px;top:477.8999999999999px;" width="6" height="6" viewBox="0 0 6 6"><circle cx="3" cy="3" r="2.6" fill="#a3a8b0"/></svg>
<div class="t" style="left:416px;top:471.80px;font-size:16px;line-height:16px;color:#00857d;letter-spacing:-0.279px;">10.112.128.0/28</div>
<div style="position:absolute;left:552.9px;top:468.59999999999997px;width:57px;height:21.3px;background:#0054a6;border-radius:4px;"></div>
<div class="t" style="left:559.9px;top:472.80px;font-size:14px;line-height:14px;color:#fff;letter-spacing:0.62px;-webkit-text-stroke:0.45px #fff;">Active</div>
<div class="t" style="left:654.3px;top:471.80px;font-size:16px;line-height:16px;color:#1b2433;">0</div>
<div class="t" style="left:731.8px;top:471.80px;font-size:16px;line-height:16px;color:#1b2433;">Global</div>
<div class="t" style="left:904.3px;top:471.80px;font-size:16px;line-height:16px;color:#00857d;letter-spacing:0.26px;">Dunder-Mifflin, Inc.</div>
<div class="t" style="left:1066.5px;top:471.80px;font-size:16px;line-height:16px;color:#00857d;letter-spacing:0.2px;">DM-Akron</div>
<svg style="position:absolute;left:1209.5px;top:478.69999999999993px;" width="12" height="4" viewBox="0 0 12 4"><line x1="0.6" y1="2" x2="11.4" y2="2" stroke="#1b2433" stroke-width="1.4" stroke-linecap="round"/></svg>
<div class="t" style="left:1335px;top:471.80px;font-size:16px;line-height:16px;color:#00857d;letter-spacing:0.19px;">Management</div>
<svg style="position:absolute;left:1485px;top:478.69999999999993px;" width="12" height="4" viewBox="0 0 12 4"><line x1="0.6" y1="2" x2="11.4" y2="2" stroke="#1b2433" stroke-width="1.4" stroke-linecap="round"/></svg>
<div style="position:absolute;left:1639.5px;top:468.29999999999995px;width:23px;height:25.6px;background:#00857d;border-radius:4px;"></div>
<svg style="position:absolute;left:1645px;top:474.29999999999995px;" width="12" height="13" viewBox="0 0 12 13"><g fill="none" stroke="#fff" stroke-width="1.2"><path d="M1 9.5 V2 A1.2 1.2 0 0 1 2.2 0.8 H7.5"/><rect x="2.9" y="2.9" width="7.6" height="9" rx="1"/></g></svg>
<div style="position:absolute;left:1665.4px;top:468.29999999999995px;width:41px;height:25.6px;background:#f76707;border-radius:4px;"></div>
<svg style="position:absolute;left:1670px;top:473.79999999999995px;" width="14" height="12" viewBox="0 0 14 12"><path d="M2.4 10.2 L8.6 4.0" stroke="#fff" stroke-width="2.5" stroke-linecap="round"/><path d="M9.9 2.7 L10.8 1.8" stroke="#fff" stroke-width="2.5" stroke-linecap="round"/></svg>
<svg style="position:absolute;left:1693px;top:478.29999999999995px;" width="8.8" height="5.8" viewBox="0 0 8.8 5.8"><polyline points="1,1 4.4,4.8 7.8,1" fill="none" stroke="#ffffff" stroke-width="1.1" stroke-linecap="round" stroke-linejoin="round"/></svg>
<div style="position:absolute;left:330px;top:502.2px;width:1385px;height:1px;background:#e6e9ee;"></div>
<div style="position:absolute;left:338.5px;top:511.5px;width:22px;height:22px;background:#fff;border:1px solid #dfe3e8;border-radius:5px;box-sizing:border-box;box-shadow:0 1px 1.5px rgba(0,0,0,0.07);"></div>
<svg style="position:absolute;left:378.9px;top:521.8000000000001px;" width="6" height="6" viewBox="0 0 6 6"><circle cx="3" cy="3" r="2.6" fill="#a3a8b0"/></svg>
<svg style="position:absolute;left:390.34999999999997px;top:521.8000000000001px;" width="6" height="6" viewBox="0 0 6 6"><circle cx="3" cy="3" r="2.6" fill="#a3a8b0"/></svg>
<svg style="position:absolute;left:401.79999999999995px;top:521.8000000000001px;" width="6" height="6" viewBox="0 0 6 6"><circle cx="3" cy="3" r="2.6" fill="#a3a8b0"/></svg>
<div class="t" style="left:416px;top:515.70px;font-size:16px;line-height:16px;color:#00857d;letter-spacing:-0.336px;">10.112.129.0/24</div>
<div style="position:absolute;left:552.9px;top:512.5px;width:57px;height:21.3px;background:#0054a6;border-radius:4px;"></div>
<div class="t" style="left:559.9px;top:516.70px;font-size:14px;line-height:14px;color:#fff;letter-spacing:0.62px;-webkit-text-stroke:0.45px #fff;">Active</div>
<div class="t" style="left:654.3px;top:515.70px;font-size:16px;line-height:16px;color:#1b2433;">0</div>
<div class="t" style="left:731.8px;top:515.70px;font-size:16px;line-height:16px;color:#1b2433;">Global</div>
<div class="t" style="left:904.3px;top:515.70px;font-size:16px;line-height:16px;color:#00857d;letter-spacing:0.26px;">Dunder-Mifflin, Inc.</div>
<div class="t" style="left:1066.5px;top:515.70px;font-size:16px;line-height:16px;color:#00857d;letter-spacing:0.2px;">DM-Akron</div>
<div class="t" style="left:1208.5px;top:515.70px;font-size:16px;line-height:16px;color:#00857d;letter-spacing:-0.18px;">Data (100)</div>
<div class="t" style="left:1335px;top:515.70px;font-size:16px;line-height:16px;color:#00857d;letter-spacing:0.05px;">Access - Data</div>
<svg style="position:absolute;left:1485px;top:522.6px;" width="12" height="4" viewBox="0 0 12 4"><line x1="0.6" y1="2" x2="11.4" y2="2" stroke="#1b2433" stroke-width="1.4" stroke-linecap="round"/></svg>
<div style="position:absolute;left:1639.5px;top:512.2px;width:23px;height:25.6px;background:#00857d;border-radius:4px;"></div>
<svg style="position:absolute;left:1645px;top:518.2px;" width="12" height="13" viewBox="0 0 12 13"><g fill="none" stroke="#fff" stroke-width="1.2"><path d="M1 9.5 V2 A1.2 1.2 0 0 1 2.2 0.8 H7.5"/><rect x="2.9" y="2.9" width="7.6" height="9" rx="1"/></g></svg>
<div style="position:absolute;left:1665.4px;top:512.2px;width:41px;height:25.6px;background:#f76707;border-radius:4px;"></div>
<svg style="position:absolute;left:1670px;top:517.7px;" width="14" height="12" viewBox="0 0 14 12"><path d="M2.4 10.2 L8.6 4.0" stroke="#fff" stroke-width="2.5" stroke-linecap="round"/><path d="M9.9 2.7 L10.8 1.8" stroke="#fff" stroke-width="2.5" stroke-linecap="round"/></svg>
<svg style="position:absolute;left:1693px;top:522.2px;" width="8.8" height="5.8" viewBox="0 0 8.8 5.8"><polyline points="1,1 4.4,4.8 7.8,1" fill="none" stroke="#ffffff" stroke-width="1.1" stroke-linecap="round" stroke-linejoin="round"/></svg>
<div style="position:absolute;left:330px;top:546.0999999999999px;width:1385px;height:1px;background:#e6e9ee;"></div>
<div style="position:absolute;left:338.5px;top:555.3999999999999px;width:22px;height:22px;background:#fff;border:1px solid #dfe3e8;border-radius:5px;box-sizing:border-box;box-shadow:0 1px 1.5px rgba(0,0,0,0.07);"></div>
<svg style="position:absolute;left:378.9px;top:565.6999999999999px;" width="6" height="6" viewBox="0 0 6 6"><circle cx="3" cy="3" r="2.6" fill="#a3a8b0"/></svg>
<svg style="position:absolute;left:390.34999999999997px;top:565.6999999999999px;" width="6" height="6" viewBox="0 0 6 6"><circle cx="3" cy="3" r="2.6" fill="#a3a8b0"/></svg>
<svg style="position:absolute;left:401.79999999999995px;top:565.6999999999999px;" width="6" height="6" viewBox="0 0 6 6"><circle cx="3" cy="3" r="2.6" fill="#a3a8b0"/></svg>
<div class="t" style="left:416px;top:559.60px;font-size:16px;line-height:16px;color:#00857d;letter-spacing:-0.164px;">10.112.130.0/24</div>
<div style="position:absolute;left:552.9px;top:556.3999999999999px;width:57px;height:21.3px;background:#0054a6;border-radius:4px;"></div>
<div class="t" style="left:559.9px;top:560.60px;font-size:14px;line-height:14px;color:#fff;letter-spacing:0.62px;-webkit-text-stroke:0.45px #fff;">Active</div>
<div class="t" style="left:654.3px;top:559.60px;font-size:16px;line-height:16px;color:#1b2433;">0</div>
<div class="t" style="left:731.8px;top:559.60px;font-size:16px;line-height:16px;color:#1b2433;">Global</div>
<div class="t" style="left:904.3px;top:559.60px;font-size:16px;line-height:16px;color:#00857d;letter-spacing:0.26px;">Dunder-Mifflin, Inc.</div>
<div class="t" style="left:1066.5px;top:559.60px;font-size:16px;line-height:16px;color:#00857d;letter-spacing:0.2px;">DM-Akron</div>
<div class="t" style="left:1208.5px;top:559.60px;font-size:16px;line-height:16px;color:#00857d;letter-spacing:0.35px;">Voice (200)</div>
<div class="t" style="left:1335px;top:559.60px;font-size:16px;line-height:16px;color:#00857d;letter-spacing:0.17px;">Access - Voice</div>
<svg style="position:absolute;left:1485px;top:566.4999999999999px;" width="12" height="4" viewBox="0 0 12 4"><line x1="0.6" y1="2" x2="11.4" y2="2" stroke="#1b2433" stroke-width="1.4" stroke-linecap="round"/></svg>
<div style="position:absolute;left:1639.5px;top:556.0999999999999px;width:23px;height:25.6px;background:#00857d;border-radius:4px;"></div>
<svg style="position:absolute;left:1645px;top:562.0999999999999px;" width="12" height="13" viewBox="0 0 12 13"><g fill="none" stroke="#fff" stroke-width="1.2"><path d="M1 9.5 V2 A1.2 1.2 0 0 1 2.2 0.8 H7.5"/><rect x="2.9" y="2.9" width="7.6" height="9" rx="1"/></g></svg>
<div style="position:absolute;left:1665.4px;top:556.0999999999999px;width:41px;height:25.6px;background:#f76707;border-radius:4px;"></div>
<svg style="position:absolute;left:1670px;top:561.5999999999999px;" width="14" height="12" viewBox="0 0 14 12"><path d="M2.4 10.2 L8.6 4.0" stroke="#fff" stroke-width="2.5" stroke-linecap="round"/><path d="M9.9 2.7 L10.8 1.8" stroke="#fff" stroke-width="2.5" stroke-linecap="round"/></svg>
<svg style="position:absolute;left:1693px;top:566.0999999999999px;" width="8.8" height="5.8" viewBox="0 0 8.8 5.8"><polyline points="1,1 4.4,4.8 7.8,1" fill="none" stroke="#ffffff" stroke-width="1.1" stroke-linecap="round" stroke-linejoin="round"/></svg>
<div style="position:absolute;left:330px;top:590.0px;width:1385px;height:1px;background:#e6e9ee;"></div>
<div style="position:absolute;left:338.5px;top:599.3px;width:22px;height:22px;background:#fff;border:1px solid #dfe3e8;border-radius:5px;box-sizing:border-box;box-shadow:0 1px 1.5px rgba(0,0,0,0.07);"></div>
<svg style="position:absolute;left:378.9px;top:609.6px;" width="6" height="6" viewBox="0 0 6 6"><circle cx="3" cy="3" r="2.6" fill="#a3a8b0"/></svg>
<svg style="position:absolute;left:390.34999999999997px;top:609.6px;" width="6" height="6" viewBox="0 0 6 6"><circle cx="3" cy="3" r="2.6" fill="#a3a8b0"/></svg>
<svg style="position:absolute;left:401.79999999999995px;top:609.6px;" width="6" height="6" viewBox="0 0 6 6"><circle cx="3" cy="3" r="2.6" fill="#a3a8b0"/></svg>
<div class="t" style="left:416px;top:603.50px;font-size:16px;line-height:16px;color:#00857d;letter-spacing:-0.521px;">10.112.131.0/24</div>
<div style="position:absolute;left:552.9px;top:600.3px;width:57px;height:21.3px;background:#0054a6;border-radius:4px;"></div>
<div class="t" style="left:559.9px;top:604.50px;font-size:14px;line-height:14px;color:#fff;letter-spacing:0.62px;-webkit-text-stroke:0.45px #fff;">Active</div>
<div class="t" style="left:654.3px;top:603.50px;font-size:16px;line-height:16px;color:#1b2433;">0</div>
<div class="t" style="left:731.8px;top:603.50px;font-size:16px;line-height:16px;color:#1b2433;">Global</div>
<div class="t" style="left:904.3px;top:603.50px;font-size:16px;line-height:16px;color:#00857d;letter-spacing:0.26px;">Dunder-Mifflin, Inc.</div>
<div class="t" style="left:1066.5px;top:603.50px;font-size:16px;line-height:16px;color:#00857d;letter-spacing:0.2px;">DM-Akron</div>
<div class="t" style="left:1208.5px;top:603.50px;font-size:16px;line-height:16px;color:#00857d;letter-spacing:0.12px;">Wireless (300)</div>
<div class="t" style="left:1335px;top:603.50px;font-size:16px;line-height:16px;color:#00857d;letter-spacing:0.03px;">Access - Wireless</div>
<svg style="position:absolute;left:1485px;top:610.4px;" width="12" height="4" viewBox="0 0 12 4"><line x1="0.6" y1="2" x2="11.4" y2="2" stroke="#1b2433" stroke-width="1.4" stroke-linecap="round"/></svg>
<div style="position:absolute;left:1639.5px;top:600.0px;width:23px;height:25.6px;background:#00857d;border-radius:4px;"></div>
<svg style="position:absolute;left:1645px;top:606.0px;" width="12" height="13" viewBox="0 0 12 13"><g fill="none" stroke="#fff" stroke-width="1.2"><path d="M1 9.5 V2 A1.2 1.2 0 0 1 2.2 0.8 H7.5"/><rect x="2.9" y="2.9" width="7.6" height="9" rx="1"/></g></svg>
<div style="position:absolute;left:1665.4px;top:600.0px;width:41px;height:25.6px;background:#f76707;border-radius:4px;"></div>
<svg style="position:absolute;left:1670px;top:605.5px;" width="14" height="12" viewBox="0 0 14 12"><path d="M2.4 10.2 L8.6 4.0" stroke="#fff" stroke-width="2.5" stroke-linecap="round"/><path d="M9.9 2.7 L10.8 1.8" stroke="#fff" stroke-width="2.5" stroke-linecap="round"/></svg>
<svg style="position:absolute;left:1693px;top:610.0px;" width="8.8" height="5.8" viewBox="0 0 8.8 5.8"><polyline points="1,1 4.4,4.8 7.8,1" fill="none" stroke="#ffffff" stroke-width="1.1" stroke-linecap="round" stroke-linejoin="round"/></svg>
<div style="position:absolute;left:330px;top:633.9px;width:1385px;height:1px;background:#e6e9ee;"></div>
<div style="position:absolute;left:338.5px;top:643.1999999999999px;width:22px;height:22px;background:#fff;border:1px solid #dfe3e8;border-radius:5px;box-sizing:border-box;box-shadow:0 1px 1.5px rgba(0,0,0,0.07);"></div>
<svg style="position:absolute;left:378.9px;top:653.5px;" width="6" height="6" viewBox="0 0 6 6"><circle cx="3" cy="3" r="2.6" fill="#a3a8b0"/></svg>
<svg style="position:absolute;left:390.34999999999997px;top:653.5px;" width="6" height="6" viewBox="0 0 6 6"><circle cx="3" cy="3" r="2.6" fill="#a3a8b0"/></svg>
<div class="t" style="left:404.6px;top:647.40px;font-size:16px;line-height:16px;color:#00857d;letter-spacing:-0.279px;">10.112.132.0/22</div>
<div style="position:absolute;left:552.9px;top:644.6999999999999px;width:81px;height:20.6px;background:#f1f4f8;border-radius:4px;"></div>
<div class="t" style="left:560.5px;top:648.40px;font-size:14px;line-height:14px;color:#5f6c7c;letter-spacing:0.56px;-webkit-text-stroke:0.4px #5f6c7c;">Container</div>
<div class="t" style="left:654.3px;top:647.40px;font-size:16px;line-height:16px;color:#00857d;">4</div>
<div class="t" style="left:731.8px;top:647.40px;font-size:16px;line-height:16px;color:#1b2433;">Global</div>
<div class="t" style="left:904.3px;top:647.40px;font-size:16px;line-height:16px;color:#00857d;letter-spacing:0.26px;">Dunder-Mifflin, Inc.</div>
<div class="t" style="left:1066.5px;top:647.40px;font-size:16px;line-height:16px;color:#00857d;letter-spacing:0.25px;">DM-Albany</div>
<svg style="position:absolute;left:1209.5px;top:654.3px;" width="12" height="4" viewBox="0 0 12 4"><line x1="0.6" y1="2" x2="11.4" y2="2" stroke="#1b2433" stroke-width="1.4" stroke-linecap="round"/></svg>
<svg style="position:absolute;left:1336px;top:654.3px;" width="12" height="4" viewBox="0 0 12 4"><line x1="0.6" y1="2" x2="11.4" y2="2" stroke="#1b2433" stroke-width="1.4" stroke-linecap="round"/></svg>
<svg style="position:absolute;left:1485px;top:654.3px;" width="12" height="4" viewBox="0 0 12 4"><line x1="0.6" y1="2" x2="11.4" y2="2" stroke="#1b2433" stroke-width="1.4" stroke-linecap="round"/></svg>
<div style="position:absolute;left:1639.5px;top:643.9px;width:23px;height:25.6px;background:#00857d;border-radius:4px;"></div>
<svg style="position:absolute;left:1645px;top:649.9px;" width="12" height="13" viewBox="0 0 12 13"><g fill="none" stroke="#fff" stroke-width="1.2"><path d="M1 9.5 V2 A1.2 1.2 0 0 1 2.2 0.8 H7.5"/><rect x="2.9" y="2.9" width="7.6" height="9" rx="1"/></g></svg>
<div style="position:absolute;left:1665.4px;top:643.9px;width:41px;height:25.6px;background:#f76707;border-radius:4px;"></div>
<svg style="position:absolute;left:1670px;top:649.4px;" width="14" height="12" viewBox="0 0 14 12"><path d="M2.4 10.2 L8.6 4.0" stroke="#fff" stroke-width="2.5" stroke-linecap="round"/><path d="M9.9 2.7 L10.8 1.8" stroke="#fff" stroke-width="2.5" stroke-linecap="round"/></svg>
<svg style="position:absolute;left:1693px;top:653.9px;" width="8.8" height="5.8" viewBox="0 0 8.8 5.8"><polyline points="1,1 4.4,4.8 7.8,1" fill="none" stroke="#ffffff" stroke-width="1.1" stroke-linecap="round" stroke-linejoin="round"/></svg>
<div style="position:absolute;left:330px;top:677.8px;width:1385px;height:1px;background:#e6e9ee;"></div>
<div style="position:absolute;left:338.5px;top:687.0999999999999px;width:22px;height:22px;background:#fff;border:1px solid #dfe3e8;border-radius:5px;box-sizing:border-box;box-shadow:0 1px 1.5px rgba(0,0,0,0.07);"></div>
<svg style="position:absolute;left:378.9px;top:697.4px;" width="6" height="6" viewBox="0 0 6 6"><circle cx="3" cy="3" r="2.6" fill="#a3a8b0"/></svg>
<svg style="position:absolute;left:390.34999999999997px;top:697.4px;" width="6" height="6" viewBox="0 0 6 6"><circle cx="3" cy="3" r="2.6" fill="#a3a8b0"/></svg>
<svg style="position:absolute;left:401.79999999999995px;top:697.4px;" width="6" height="6" viewBox="0 0 6 6"><circle cx="3" cy="3" r="2.6" fill="#a3a8b0"/></svg>
<div class="t" style="left:416px;top:691.30px;font-size:16px;line-height:16px;color:#00857d;letter-spacing:-0.279px;">10.112.132.0/28</div>
<div style="position:absolute;left:552.9px;top:688.0999999999999px;width:57px;height:21.3px;background:#0054a6;border-radius:4px;"></div>
<div class="t" style="left:559.9px;top:692.30px;font-size:14px;line-height:14px;color:#fff;letter-spacing:0.62px;-webkit-text-stroke:0.45px #fff;">Active</div>
<div class="t" style="left:654.3px;top:691.30px;font-size:16px;line-height:16px;color:#1b2433;">0</div>
<div class="t" style="left:731.8px;top:691.30px;font-size:16px;line-height:16px;color:#1b2433;">Global</div>
<div class="t" style="left:904.3px;top:691.30px;font-size:16px;line-height:16px;color:#00857d;letter-spacing:0.26px;">Dunder-Mifflin, Inc.</div>
<div class="t" style="left:1066.5px;top:691.30px;font-size:16px;line-height:16px;color:#00857d;letter-spacing:0.25px;">DM-Albany</div>
<svg style="position:absolute;left:1209.5px;top:698.1999999999999px;" width="12" height="4" viewBox="0 0 12 4"><line x1="0.6" y1="2" x2="11.4" y2="2" stroke="#1b2433" stroke-width="1.4" stroke-linecap="round"/></svg>
<div class="t" style="left:1335px;top:691.30px;font-size:16px;line-height:16px;color:#00857d;letter-spacing:0.19px;">Management</div>
<svg style="position:absolute;left:1485px;top:698.1999999999999px;" width="12" height="4" viewBox="0 0 12 4"><line x1="0.6" y1="2" x2="11.4" y2="2" stroke="#1b2433" stroke-width="1.4" stroke-linecap="round"/></svg>
<div style="position:absolute;left:1639.5px;top:687.8px;width:23px;height:25.6px;background:#00857d;border-radius:4px;"></div>
<svg style="position:absolute;left:1645px;top:693.8px;" width="12" height="13" viewBox="0 0 12 13"><g fill="none" stroke="#fff" stroke-width="1.2"><path d="M1 9.5 V2 A1.2 1.2 0 0 1 2.2 0.8 H7.5"/><rect x="2.9" y="2.9" width="7.6" height="9" rx="1"/></g></svg>
<div style="position:absolute;left:1665.4px;top:687.8px;width:41px;height:25.6px;background:#f76707;border-radius:4px;"></div>
<svg style="position:absolute;left:1670px;top:693.3px;" width="14" height="12" viewBox="0 0 14 12"><path d="M2.4 10.2 L8.6 4.0" stroke="#fff" stroke-width="2.5" stroke-linecap="round"/><path d="M9.9 2.7 L10.8 1.8" stroke="#fff" stroke-width="2.5" stroke-linecap="round"/></svg>
<svg style="position:absolute;left:1693px;top:697.8px;" width="8.8" height="5.8" viewBox="0 0 8.8 5.8"><polyline points="1,1 4.4,4.8 7.8,1" fill="none" stroke="#ffffff" stroke-width="1.1" stroke-linecap="round" stroke-linejoin="round"/></svg>
<div style="position:absolute;left:330px;top:721.7px;width:1385px;height:1px;background:#e6e9ee;"></div>
<div style="position:absolute;left:338.5px;top:731.0px;width:22px;height:22px;background:#fff;border:1px solid #dfe3e8;border-radius:5px;box-sizing:border-box;box-shadow:0 1px 1.5px rgba(0,0,0,0.07);"></div>
<svg style="position:absolute;left:378.9px;top:741.3000000000001px;" width="6" height="6" viewBox="0 0 6 6"><circle cx="3" cy="3" r="2.6" fill="#a3a8b0"/></svg>
<svg style="position:absolute;left:390.34999999999997px;top:741.3000000000001px;" width="6" height="6" viewBox="0 0 6 6"><circle cx="3" cy="3" r="2.6" fill="#a3a8b0"/></svg>
<svg style="position:absolute;left:401.79999999999995px;top:741.3000000000001px;" width="6" height="6" viewBox="0 0 6 6"><circle cx="3" cy="3" r="2.6" fill="#a3a8b0"/></svg>
<div class="t" style="left:416px;top:735.20px;font-size:16px;line-height:16px;color:#00857d;letter-spacing:-0.279px;">10.112.133.0/24</div>
<div style="position:absolute;left:552.9px;top:732.0px;width:57px;height:21.3px;background:#0054a6;border-radius:4px;"></div>
<div class="t" style="left:559.9px;top:736.20px;font-size:14px;line-height:14px;color:#fff;letter-spacing:0.62px;-webkit-text-stroke:0.45px #fff;">Active</div>
<div class="t" style="left:654.3px;top:735.20px;font-size:16px;line-height:16px;color:#1b2433;">0</div>
<div class="t" style="left:731.8px;top:735.20px;font-size:16px;line-height:16px;color:#1b2433;">Global</div>
<div class="t" style="left:904.3px;top:735.20px;font-size:16px;line-height:16px;color:#00857d;letter-spacing:0.26px;">Dunder-Mifflin, Inc.</div>
<div class="t" style="left:1066.5px;top:735.20px;font-size:16px;line-height:16px;color:#00857d;letter-spacing:0.25px;">DM-Albany</div>
<div class="t" style="left:1208.5px;top:735.20px;font-size:16px;line-height:16px;color:#00857d;letter-spacing:-0.18px;">Data (100)</div>
<div class="t" style="left:1335px;top:735.20px;font-size:16px;line-height:16px;color:#00857d;letter-spacing:0.05px;">Access - Data</div>
<svg style="position:absolute;left:1485px;top:742.1px;" width="12" height="4" viewBox="0 0 12 4"><line x1="0.6" y1="2" x2="11.4" y2="2" stroke="#1b2433" stroke-width="1.4" stroke-linecap="round"/></svg>
<div style="position:absolute;left:1639.5px;top:731.7px;width:23px;height:25.6px;background:#00857d;border-radius:4px;"></div>
<svg style="position:absolute;left:1645px;top:737.7px;" width="12" height="13" viewBox="0 0 12 13"><g fill="none" stroke="#fff" stroke-width="1.2"><path d="M1 9.5 V2 A1.2 1.2 0 0 1 2.2 0.8 H7.5"/><rect x="2.9" y="2.9" width="7.6" height="9" rx="1"/></g></svg>
<div style="position:absolute;left:1665.4px;top:731.7px;width:41px;height:25.6px;background:#f76707;border-radius:4px;"></div>
<svg style="position:absolute;left:1670px;top:737.2px;" width="14" height="12" viewBox="0 0 14 12"><path d="M2.4 10.2 L8.6 4.0" stroke="#fff" stroke-width="2.5" stroke-linecap="round"/><path d="M9.9 2.7 L10.8 1.8" stroke="#fff" stroke-width="2.5" stroke-linecap="round"/></svg>
<svg style="position:absolute;left:1693px;top:741.7px;" width="8.8" height="5.8" viewBox="0 0 8.8 5.8"><polyline points="1,1 4.4,4.8 7.8,1" fill="none" stroke="#ffffff" stroke-width="1.1" stroke-linecap="round" stroke-linejoin="round"/></svg>
<div style="position:absolute;left:330px;top:765.5999999999999px;width:1385px;height:1px;background:#e6e9ee;"></div>
<div style="position:absolute;left:338.5px;top:774.8999999999999px;width:22px;height:22px;background:#fff;border:1px solid #dfe3e8;border-radius:5px;box-sizing:border-box;box-shadow:0 1px 1.5px rgba(0,0,0,0.07);"></div>
<svg style="position:absolute;left:378.9px;top:785.1999999999999px;" width="6" height="6" viewBox="0 0 6 6"><circle cx="3" cy="3" r="2.6" fill="#a3a8b0"/></svg>
<svg style="position:absolute;left:390.34999999999997px;top:785.1999999999999px;" width="6" height="6" viewBox="0 0 6 6"><circle cx="3" cy="3" r="2.6" fill="#a3a8b0"/></svg>
<svg style="position:absolute;left:401.79999999999995px;top:785.1999999999999px;" width="6" height="6" viewBox="0 0 6 6"><circle cx="3" cy="3" r="2.6" fill="#a3a8b0"/></svg>
<div class="t" style="left:416px;top:779.10px;font-size:16px;line-height:16px;color:#00857d;letter-spacing:-0.279px;">10.112.134.0/24</div>
<div style="position:absolute;left:552.9px;top:775.8999999999999px;width:57px;height:21.3px;background:#0054a6;border-radius:4px;"></div>
<div class="t" style="left:559.9px;top:780.10px;font-size:14px;line-height:14px;color:#fff;letter-spacing:0.62px;-webkit-text-stroke:0.45px #fff;">Active</div>
<div class="t" style="left:654.3px;top:779.10px;font-size:16px;line-height:16px;color:#1b2433;">0</div>
<div class="t" style="left:731.8px;top:779.10px;font-size:16px;line-height:16px;color:#1b2433;">Global</div>
<div class="t" style="left:904.3px;top:779.10px;font-size:16px;line-height:16px;color:#00857d;letter-spacing:0.26px;">Dunder-Mifflin, Inc.</div>
<div class="t" style="left:1066.5px;top:779.10px;font-size:16px;line-height:16px;color:#00857d;letter-spacing:0.25px;">DM-Albany</div>
<div class="t" style="left:1208.5px;top:779.10px;font-size:16px;line-height:16px;color:#00857d;letter-spacing:0.35px;">Voice (200)</div>
<div class="t" style="left:1335px;top:779.10px;font-size:16px;line-height:16px;color:#00857d;letter-spacing:0.17px;">Access - Voice</div>
<svg style="position:absolute;left:1485px;top:785.9999999999999px;" width="12" height="4" viewBox="0 0 12 4"><line x1="0.6" y1="2" x2="11.4" y2="2" stroke="#1b2433" stroke-width="1.4" stroke-linecap="round"/></svg>
<div style="position:absolute;left:1639.5px;top:775.5999999999999px;width:23px;height:25.6px;background:#00857d;border-radius:4px;"></div>
<svg style="position:absolute;left:1645px;top:781.5999999999999px;" width="12" height="13" viewBox="0 0 12 13"><g fill="none" stroke="#fff" stroke-width="1.2"><path d="M1 9.5 V2 A1.2 1.2 0 0 1 2.2 0.8 H7.5"/><rect x="2.9" y="2.9" width="7.6" height="9" rx="1"/></g></svg>
<div style="position:absolute;left:1665.4px;top:775.5999999999999px;width:41px;height:25.6px;background:#f76707;border-radius:4px;"></div>
<svg style="position:absolute;left:1670px;top:781.0999999999999px;" width="14" height="12" viewBox="0 0 14 12"><path d="M2.4 10.2 L8.6 4.0" stroke="#fff" stroke-width="2.5" stroke-linecap="round"/><path d="M9.9 2.7 L10.8 1.8" stroke="#fff" stroke-width="2.5" stroke-linecap="round"/></svg>
<svg style="position:absolute;left:1693px;top:785.5999999999999px;" width="8.8" height="5.8" viewBox="0 0 8.8 5.8"><polyline points="1,1 4.4,4.8 7.8,1" fill="none" stroke="#ffffff" stroke-width="1.1" stroke-linecap="round" stroke-linejoin="round"/></svg>
<div style="position:absolute;left:330px;top:809.5px;width:1385px;height:1px;background:#e6e9ee;"></div>
<div style="position:absolute;left:338.5px;top:818.8px;width:22px;height:22px;background:#fff;border:1px solid #dfe3e8;border-radius:5px;box-sizing:border-box;box-shadow:0 1px 1.5px rgba(0,0,0,0.07);"></div>
<svg style="position:absolute;left:378.9px;top:829.1px;" width="6" height="6" viewBox="0 0 6 6"><circle cx="3" cy="3" r="2.6" fill="#a3a8b0"/></svg>
<svg style="position:absolute;left:390.34999999999997px;top:829.1px;" width="6" height="6" viewBox="0 0 6 6"><circle cx="3" cy="3" r="2.6" fill="#a3a8b0"/></svg>
<svg style="position:absolute;left:401.79999999999995px;top:829.1px;" width="6" height="6" viewBox="0 0 6 6"><circle cx="3" cy="3" r="2.6" fill="#a3a8b0"/></svg>
<div class="t" style="left:416px;top:823.00px;font-size:16px;line-height:16px;color:#00857d;letter-spacing:-0.279px;">10.112.135.0/24</div>
<div style="position:absolute;left:552.9px;top:819.8px;width:57px;height:21.3px;background:#0054a6;border-radius:4px;"></div>
<div class="t" style="left:559.9px;top:824.00px;font-size:14px;line-height:14px;color:#fff;letter-spacing:0.62px;-webkit-text-stroke:0.45px #fff;">Active</div>
<div class="t" style="left:654.3px;top:823.00px;font-size:16px;line-height:16px;color:#1b2433;">0</div>
<div class="t" style="left:731.8px;top:823.00px;font-size:16px;line-height:16px;color:#1b2433;">Global</div>
<div class="t" style="left:904.3px;top:823.00px;font-size:16px;line-height:16px;color:#00857d;letter-spacing:0.26px;">Dunder-Mifflin, Inc.</div>
<div class="t" style="left:1066.5px;top:823.00px;font-size:16px;line-height:16px;color:#00857d;letter-spacing:0.25px;">DM-Albany</div>
<div class="t" style="left:1208.5px;top:823.00px;font-size:16px;line-height:16px;color:#00857d;letter-spacing:0.12px;">Wireless (300)</div>
<div class="t" style="left:1335px;top:823.00px;font-size:16px;line-height:16px;color:#00857d;letter-spacing:0.03px;">Access - Wireless</div>
<svg style="position:absolute;left:1485px;top:829.9px;" width="12" height="4" viewBox="0 0 12 4"><line x1="0.6" y1="2" x2="11.4" y2="2" stroke="#1b2433" stroke-width="1.4" stroke-linecap="round"/></svg>
<div style="position:absolute;left:1639.5px;top:819.5px;width:23px;height:25.6px;background:#00857d;border-radius:4px;"></div>
<svg style="position:absolute;left:1645px;top:825.5px;" width="12" height="13" viewBox="0 0 12 13"><g fill="none" stroke="#fff" stroke-width="1.2"><path d="M1 9.5 V2 A1.2 1.2 0 0 1 2.2 0.8 H7.5"/><rect x="2.9" y="2.9" width="7.6" height="9" rx="1"/></g></svg>
<div style="position:absolute;left:1665.4px;top:819.5px;width:41px;height:25.6px;background:#f76707;border-radius:4px;"></div>
<svg style="position:absolute;left:1670px;top:825.0px;" width="14" height="12" viewBox="0 0 14 12"><path d="M2.4 10.2 L8.6 4.0" stroke="#fff" stroke-width="2.5" stroke-linecap="round"/><path d="M9.9 2.7 L10.8 1.8" stroke="#fff" stroke-width="2.5" stroke-linecap="round"/></svg>
<svg style="position:absolute;left:1693px;top:829.5px;" width="8.8" height="5.8" viewBox="0 0 8.8 5.8"><polyline points="1,1 4.4,4.8 7.8,1" fill="none" stroke="#ffffff" stroke-width="1.1" stroke-linecap="round" stroke-linejoin="round"/></svg>
<div style="position:absolute;left:330px;top:853.3999999999999px;width:1385px;height:1px;background:#e6e9ee;"></div>
<div style="position:absolute;left:338.5px;top:862.6999999999998px;width:22px;height:22px;background:#fff;border:1px solid #dfe3e8;border-radius:5px;box-sizing:border-box;box-shadow:0 1px 1.5px rgba(0,0,0,0.07);"></div>
<svg style="position:absolute;left:378.9px;top:872.9999999999999px;" width="6" height="6" viewBox="0 0 6 6"><circle cx="3" cy="3" r="2.6" fill="#a3a8b0"/></svg>
<svg style="position:absolute;left:390.34999999999997px;top:872.9999999999999px;" width="6" height="6" viewBox="0 0 6 6"><circle cx="3" cy="3" r="2.6" fill="#a3a8b0"/></svg>
<div class="t" style="left:404.6px;top:866.90px;font-size:16px;line-height:16px;color:#00857d;letter-spacing:-0.279px;">10.112.136.0/22</div>
<div style="position:absolute;left:552.9px;top:864.1999999999998px;width:81px;height:20.6px;background:#f1f4f8;border-radius:4px;"></div>
<div class="t" style="left:560.5px;top:867.90px;font-size:14px;line-height:14px;color:#5f6c7c;letter-spacing:0.56px;-webkit-text-stroke:0.4px #5f6c7c;">Container</div>
<div class="t" style="left:654.3px;top:866.90px;font-size:16px;line-height:16px;color:#00857d;">4</div>
<div class="t" style="left:731.8px;top:866.90px;font-size:16px;line-height:16px;color:#1b2433;">Global</div>
<div class="t" style="left:904.3px;top:866.90px;font-size:16px;line-height:16px;color:#00857d;letter-spacing:0.26px;">Dunder-Mifflin, Inc.</div>
<div class="t" style="left:1066.5px;top:866.90px;font-size:16px;line-height:16px;color:#00857d;letter-spacing:0.37px;">DM-Binghamton</div>
<svg style="position:absolute;left:1209.5px;top:873.7999999999998px;" width="12" height="4" viewBox="0 0 12 4"><line x1="0.6" y1="2" x2="11.4" y2="2" stroke="#1b2433" stroke-width="1.4" stroke-linecap="round"/></svg>
<svg style="position:absolute;left:1336px;top:873.7999999999998px;" width="12" height="4" viewBox="0 0 12 4"><line x1="0.6" y1="2" x2="11.4" y2="2" stroke="#1b2433" stroke-width="1.4" stroke-linecap="round"/></svg>
<svg style="position:absolute;left:1485px;top:873.7999999999998px;" width="12" height="4" viewBox="0 0 12 4"><line x1="0.6" y1="2" x2="11.4" y2="2" stroke="#1b2433" stroke-width="1.4" stroke-linecap="round"/></svg>
<div style="position:absolute;left:1639.5px;top:863.3999999999999px;width:23px;height:25.6px;background:#00857d;border-radius:4px;"></div>
<svg style="position:absolute;left:1645px;top:869.3999999999999px;" width="12" height="13" viewBox="0 0 12 13"><g fill="none" stroke="#fff" stroke-width="1.2"><path d="M1 9.5 V2 A1.2 1.2 0 0 1 2.2 0.8 H7.5"/><rect x="2.9" y="2.9" width="7.6" height="9" rx="1"/></g></svg>
<div style="position:absolute;left:1665.4px;top:863.3999999999999px;width:41px;height:25.6px;background:#f76707;border-radius:4px;"></div>
<svg style="position:absolute;left:1670px;top:868.8999999999999px;" width="14" height="12" viewBox="0 0 14 12"><path d="M2.4 10.2 L8.6 4.0" stroke="#fff" stroke-width="2.5" stroke-linecap="round"/><path d="M9.9 2.7 L10.8 1.8" stroke="#fff" stroke-width="2.5" stroke-linecap="round"/></svg>
<svg style="position:absolute;left:1693px;top:873.3999999999999px;" width="8.8" height="5.8" viewBox="0 0 8.8 5.8"><polyline points="1,1 4.4,4.8 7.8,1" fill="none" stroke="#ffffff" stroke-width="1.1" stroke-linecap="round" stroke-linejoin="round"/></svg>
<div style="position:absolute;left:330px;top:897.3px;width:1385px;height:1px;background:#e6e9ee;"></div>
<div style="position:absolute;left:338.5px;top:906.5999999999999px;width:22px;height:22px;background:#fff;border:1px solid #dfe3e8;border-radius:5px;box-sizing:border-box;box-shadow:0 1px 1.5px rgba(0,0,0,0.07);"></div>
<svg style="position:absolute;left:378.9px;top:916.9px;" width="6" height="6" viewBox="0 0 6 6"><circle cx="3" cy="3" r="2.6" fill="#a3a8b0"/></svg>
<svg style="position:absolute;left:390.34999999999997px;top:916.9px;" width="6" height="6" viewBox="0 0 6 6"><circle cx="3" cy="3" r="2.6" fill="#a3a8b0"/></svg>
<svg style="position:absolute;left:401.79999999999995px;top:916.9px;" width="6" height="6" viewBox="0 0 6 6"><circle cx="3" cy="3" r="2.6" fill="#a3a8b0"/></svg>
<div class="t" style="left:416px;top:910.80px;font-size:16px;line-height:16px;color:#00857d;letter-spacing:-0.279px;">10.112.136.0/28</div>
<div style="position:absolute;left:552.9px;top:907.5999999999999px;width:57px;height:21.3px;background:#0054a6;border-radius:4px;"></div>
<div class="t" style="left:559.9px;top:911.80px;font-size:14px;line-height:14px;color:#fff;letter-spacing:0.62px;-webkit-text-stroke:0.45px #fff;">Active</div>
<div class="t" style="left:654.3px;top:910.80px;font-size:16px;line-height:16px;color:#1b2433;">0</div>
<div class="t" style="left:731.8px;top:910.80px;font-size:16px;line-height:16px;color:#1b2433;">Global</div>
<div class="t" style="left:904.3px;top:910.80px;font-size:16px;line-height:16px;color:#00857d;letter-spacing:0.26px;">Dunder-Mifflin, Inc.</div>
<div class="t" style="left:1066.5px;top:910.80px;font-size:16px;line-height:16px;color:#00857d;letter-spacing:0.37px;">DM-Binghamton</div>
<svg style="position:absolute;left:1209.5px;top:917.6999999999999px;" width="12" height="4" viewBox="0 0 12 4"><line x1="0.6" y1="2" x2="11.4" y2="2" stroke="#1b2433" stroke-width="1.4" stroke-linecap="round"/></svg>
<div class="t" style="left:1335px;top:910.80px;font-size:16px;line-height:16px;color:#00857d;letter-spacing:0.19px;">Management</div>
<svg style="position:absolute;left:1485px;top:917.6999999999999px;" width="12" height="4" viewBox="0 0 12 4"><line x1="0.6" y1="2" x2="11.4" y2="2" stroke="#1b2433" stroke-width="1.4" stroke-linecap="round"/></svg>
<div style="position:absolute;left:1639.5px;top:907.3px;width:23px;height:25.6px;background:#00857d;border-radius:4px;"></div>
<svg style="position:absolute;left:1645px;top:913.3px;" width="12" height="13" viewBox="0 0 12 13"><g fill="none" stroke="#fff" stroke-width="1.2"><path d="M1 9.5 V2 A1.2 1.2 0 0 1 2.2 0.8 H7.5"/><rect x="2.9" y="2.9" width="7.6" height="9" rx="1"/></g></svg>
<div style="position:absolute;left:1665.4px;top:907.3px;width:41px;height:25.6px;background:#f76707;border-radius:4px;"></div>
<svg style="position:absolute;left:1670px;top:912.8px;" width="14" height="12" viewBox="0 0 14 12"><path d="M2.4 10.2 L8.6 4.0" stroke="#fff" stroke-width="2.5" stroke-linecap="round"/><path d="M9.9 2.7 L10.8 1.8" stroke="#fff" stroke-width="2.5" stroke-linecap="round"/></svg>
<svg style="position:absolute;left:1693px;top:917.3px;" width="8.8" height="5.8" viewBox="0 0 8.8 5.8"><polyline points="1,1 4.4,4.8 7.8,1" fill="none" stroke="#ffffff" stroke-width="1.1" stroke-linecap="round" stroke-linejoin="round"/></svg>
<div style="position:absolute;left:330px;top:941.2px;width:1385px;height:1px;background:#e6e9ee;"></div>
<div style="position:absolute;left:338.5px;top:950.5px;width:22px;height:22px;background:#fff;border:1px solid #dfe3e8;border-radius:5px;box-sizing:border-box;box-shadow:0 1px 1.5px rgba(0,0,0,0.07);"></div>
<svg style="position:absolute;left:378.9px;top:960.8000000000001px;" width="6" height="6" viewBox="0 0 6 6"><circle cx="3" cy="3" r="2.6" fill="#a3a8b0"/></svg>
<svg style="position:absolute;left:390.34999999999997px;top:960.8000000000001px;" width="6" height="6" viewBox="0 0 6 6"><circle cx="3" cy="3" r="2.6" fill="#a3a8b0"/></svg>
<svg style="position:absolute;left:401.79999999999995px;top:960.8000000000001px;" width="6" height="6" viewBox="0 0 6 6"><circle cx="3" cy="3" r="2.6" fill="#a3a8b0"/></svg>
<div class="t" style="left:416px;top:954.70px;font-size:16px;line-height:16px;color:#00857d;letter-spacing:-0.279px;">10.112.137.0/24</div>
<div style="position:absolute;left:552.9px;top:951.5px;width:57px;height:21.3px;background:#0054a6;border-radius:4px;"></div>
<div class="t" style="left:559.9px;top:955.70px;font-size:14px;line-height:14px;color:#fff;letter-spacing:0.62px;-webkit-text-stroke:0.45px #fff;">Active</div>
<div class="t" style="left:654.3px;top:954.70px;font-size:16px;line-height:16px;color:#1b2433;">0</div>
<div class="t" style="left:731.8px;top:954.70px;font-size:16px;line-height:16px;color:#1b2433;">Global</div>
<div class="t" style="left:904.3px;top:954.70px;font-size:16px;line-height:16px;color:#00857d;letter-spacing:0.26px;">Dunder-Mifflin, Inc.</div>
<div class="t" style="left:1066.5px;top:954.70px;font-size:16px;line-height:16px;color:#00857d;letter-spacing:0.37px;">DM-Binghamton</div>
<div class="t" style="left:1208.5px;top:954.70px;font-size:16px;line-height:16px;color:#00857d;letter-spacing:-0.18px;">Data (100)</div>
<div class="t" style="left:1335px;top:954.70px;font-size:16px;line-height:16px;color:#00857d;letter-spacing:0.05px;">Access - Data</div>
<svg style="position:absolute;left:1485px;top:961.6px;" width="12" height="4" viewBox="0 0 12 4"><line x1="0.6" y1="2" x2="11.4" y2="2" stroke="#1b2433" stroke-width="1.4" stroke-linecap="round"/></svg>
<div style="position:absolute;left:1639.5px;top:951.2px;width:23px;height:25.6px;background:#00857d;border-radius:4px;"></div>
<svg style="position:absolute;left:1645px;top:957.2px;" width="12" height="13" viewBox="0 0 12 13"><g fill="none" stroke="#fff" stroke-width="1.2"><path d="M1 9.5 V2 A1.2 1.2 0 0 1 2.2 0.8 H7.5"/><rect x="2.9" y="2.9" width="7.6" height="9" rx="1"/></g></svg>
<div style="position:absolute;left:1665.4px;top:951.2px;width:41px;height:25.6px;background:#f76707;border-radius:4px;"></div>
<svg style="position:absolute;left:1670px;top:956.7px;" width="14" height="12" viewBox="0 0 14 12"><path d="M2.4 10.2 L8.6 4.0" stroke="#fff" stroke-width="2.5" stroke-linecap="round"/><path d="M9.9 2.7 L10.8 1.8" stroke="#fff" stroke-width="2.5" stroke-linecap="round"/></svg>
<svg style="position:absolute;left:1693px;top:961.2px;" width="8.8" height="5.8" viewBox="0 0 8.8 5.8"><polyline points="1,1 4.4,4.8 7.8,1" fill="none" stroke="#ffffff" stroke-width="1.1" stroke-linecap="round" stroke-linejoin="round"/></svg>
<div style="position:absolute;left:330px;top:985.0999999999999px;width:1385px;height:1px;background:#e6e9ee;"></div>
<div style="position:absolute;left:338.5px;top:994.3999999999999px;width:22px;height:22px;background:#fff;border:1px solid #dfe3e8;border-radius:5px;box-sizing:border-box;box-shadow:0 1px 1.5px rgba(0,0,0,0.07);"></div>
<svg style="position:absolute;left:378.9px;top:1004.6999999999999px;" width="6" height="6" viewBox="0 0 6 6"><circle cx="3" cy="3" r="2.6" fill="#a3a8b0"/></svg>
<svg style="position:absolute;left:390.34999999999997px;top:1004.6999999999999px;" width="6" height="6" viewBox="0 0 6 6"><circle cx="3" cy="3" r="2.6" fill="#a3a8b0"/></svg>
<svg style="position:absolute;left:401.79999999999995px;top:1004.6999999999999px;" width="6" height="6" viewBox="0 0 6 6"><circle cx="3" cy="3" r="2.6" fill="#a3a8b0"/></svg>
<div class="t" style="left:416px;top:998.60px;font-size:16px;line-height:16px;color:#00857d;letter-spacing:-0.279px;">10.112.138.0/24</div>
<div style="position:absolute;left:552.9px;top:995.3999999999999px;width:57px;height:21.3px;background:#0054a6;border-radius:4px;"></div>
<div class="t" style="left:559.9px;top:999.60px;font-size:14px;line-height:14px;color:#fff;letter-spacing:0.62px;-webkit-text-stroke:0.45px #fff;">Active</div>
<div class="t" style="left:654.3px;top:998.60px;font-size:16px;line-height:16px;color:#1b2433;">0</div>
<div class="t" style="left:731.8px;top:998.60px;font-size:16px;line-height:16px;color:#1b2433;">Global</div>
<div class="t" style="left:904.3px;top:998.60px;font-size:16px;line-height:16px;color:#00857d;letter-spacing:0.26px;">Dunder-Mifflin, Inc.</div>
<div class="t" style="left:1066.5px;top:998.60px;font-size:16px;line-height:16px;color:#00857d;letter-spacing:0.37px;">DM-Binghamton</div>
<div class="t" style="left:1208.5px;top:998.60px;font-size:16px;line-height:16px;color:#00857d;letter-spacing:0.35px;">Voice (200)</div>
<div class="t" style="left:1335px;top:998.60px;font-size:16px;line-height:16px;color:#00857d;letter-spacing:0.17px;">Access - Voice</div>
<svg style="position:absolute;left:1485px;top:1005.4999999999999px;" width="12" height="4" viewBox="0 0 12 4"><line x1="0.6" y1="2" x2="11.4" y2="2" stroke="#1b2433" stroke-width="1.4" stroke-linecap="round"/></svg>
<div style="position:absolute;left:1639.5px;top:995.0999999999999px;width:23px;height:25.6px;background:#00857d;border-radius:4px;"></div>
<svg style="position:absolute;left:1645px;top:1001.0999999999999px;" width="12" height="13" viewBox="0 0 12 13"><g fill="none" stroke="#fff" stroke-width="1.2"><path d="M1 9.5 V2 A1.2 1.2 0 0 1 2.2 0.8 H7.5"/><rect x="2.9" y="2.9" width="7.6" height="9" rx="1"/></g></svg>
<div style="position:absolute;left:1665.4px;top:995.0999999999999px;width:41px;height:25.6px;background:#f76707;border-radius:4px;"></div>
<svg style="position:absolute;left:1670px;top:1000.5999999999999px;" width="14" height="12" viewBox="0 0 14 12"><path d="M2.4 10.2 L8.6 4.0" stroke="#fff" stroke-width="2.5" stroke-linecap="round"/><path d="M9.9 2.7 L10.8 1.8" stroke="#fff" stroke-width="2.5" stroke-linecap="round"/></svg>
<svg style="position:absolute;left:1693px;top:1005.0999999999999px;" width="8.8" height="5.8" viewBox="0 0 8.8 5.8"><polyline points="1,1 4.4,4.8 7.8,1" fill="none" stroke="#ffffff" stroke-width="1.1" stroke-linecap="round" stroke-linejoin="round"/></svg>
<div style="position:absolute;left:330px;top:1029.0px;width:1385px;height:1px;background:#e6e9ee;"></div>
<div style="position:absolute;left:338.5px;top:1038.3px;width:22px;height:22px;background:#fff;border:1px solid #dfe3e8;border-radius:5px;box-sizing:border-box;box-shadow:0 1px 1.5px rgba(0,0,0,0.07);"></div>
<svg style="position:absolute;left:378.9px;top:1048.6000000000001px;" width="6" height="6" viewBox="0 0 6 6"><circle cx="3" cy="3" r="2.6" fill="#a3a8b0"/></svg>
<svg style="position:absolute;left:390.34999999999997px;top:1048.6000000000001px;" width="6" height="6" viewBox="0 0 6 6"><circle cx="3" cy="3" r="2.6" fill="#a3a8b0"/></svg>
<svg style="position:absolute;left:401.79999999999995px;top:1048.6000000000001px;" width="6" height="6" viewBox="0 0 6 6"><circle cx="3" cy="3" r="2.6" fill="#a3a8b0"/></svg>
<div class="t" style="left:416px;top:1042.50px;font-size:16px;line-height:16px;color:#00857d;letter-spacing:-0.279px;">10.112.139.0/24</div>
<div style="position:absolute;left:552.9px;top:1039.3px;width:57px;height:21.3px;background:#0054a6;border-radius:4px;"></div>
<div class="t" style="left:559.9px;top:1043.50px;font-size:14px;line-height:14px;color:#fff;letter-spacing:0.62px;-webkit-text-stroke:0.45px #fff;">Active</div>
<div class="t" style="left:654.3px;top:1042.50px;font-size:16px;line-height:16px;color:#1b2433;">0</div>
<div class="t" style="left:731.8px;top:1042.50px;font-size:16px;line-height:16px;color:#1b2433;">Global</div>
<div class="t" style="left:904.3px;top:1042.50px;font-size:16px;line-height:16px;color:#00857d;letter-spacing:0.26px;">Dunder-Mifflin, Inc.</div>
<div class="t" style="left:1066.5px;top:1042.50px;font-size:16px;line-height:16px;color:#00857d;letter-spacing:0.37px;">DM-Binghamton</div>
<div class="t" style="left:1208.5px;top:1042.50px;font-size:16px;line-height:16px;color:#00857d;letter-spacing:0.12px;">Wireless (300)</div>
<div class="t" style="left:1335px;top:1042.50px;font-size:16px;line-height:16px;color:#00857d;letter-spacing:0.03px;">Access - Wireless</div>
<svg style="position:absolute;left:1485px;top:1049.4px;" width="12" height="4" viewBox="0 0 12 4"><line x1="0.6" y1="2" x2="11.4" y2="2" stroke="#1b2433" stroke-width="1.4" stroke-linecap="round"/></svg>
<div style="position:absolute;left:1639.5px;top:1039.0px;width:23px;height:25.6px;background:#00857d;border-radius:4px;"></div>
<svg style="position:absolute;left:1645px;top:1045.0px;" width="12" height="13" viewBox="0 0 12 13"><g fill="none" stroke="#fff" stroke-width="1.2"><path d="M1 9.5 V2 A1.2 1.2 0 0 1 2.2 0.8 H7.5"/><rect x="2.9" y="2.9" width="7.6" height="9" rx="1"/></g></svg>
<div style="position:absolute;left:1665.4px;top:1039.0px;width:41px;height:25.6px;background:#f76707;border-radius:4px;"></div>
<svg style="position:absolute;left:1670px;top:1044.5px;" width="14" height="12" viewBox="0 0 14 12"><path d="M2.4 10.2 L8.6 4.0" stroke="#fff" stroke-width="2.5" stroke-linecap="round"/><path d="M9.9 2.7 L10.8 1.8" stroke="#fff" stroke-width="2.5" stroke-linecap="round"/></svg>
<svg style="position:absolute;left:1693px;top:1049.0px;" width="8.8" height="5.8" viewBox="0 0 8.8 5.8"><polyline points="1,1 4.4,4.8 7.8,1" fill="none" stroke="#ffffff" stroke-width="1.1" stroke-linecap="round" stroke-linejoin="round"/></svg>
<div style="position:absolute;left:330px;top:1072.8999999999999px;width:1385px;height:1px;background:#e6e9ee;"></div>
<div style="position:absolute;left:338.5px;top:1082.1999999999998px;width:22px;height:22px;background:#fff;border:1px solid #dfe3e8;border-radius:5px;box-sizing:border-box;box-shadow:0 1px 1.5px rgba(0,0,0,0.07);"></div>
<svg style="position:absolute;left:378.9px;top:1092.5px;" width="6" height="6" viewBox="0 0 6 6"><circle cx="3" cy="3" r="2.6" fill="#a3a8b0"/></svg>
<svg style="position:absolute;left:390.34999999999997px;top:1092.5px;" width="6" height="6" viewBox="0 0 6 6"><circle cx="3" cy="3" r="2.6" fill="#a3a8b0"/></svg>
<div class="t" style="left:404.6px;top:1086.40px;font-size:16px;line-height:16px;color:#00857d;letter-spacing:-0.279px;">10.112.140.0/22</div>
<div style="position:absolute;left:552.9px;top:1083.6999999999998px;width:81px;height:20.6px;background:#f1f4f8;border-radius:4px;"></div>
<div class="t" style="left:560.5px;top:1087.40px;font-size:14px;line-height:14px;color:#5f6c7c;letter-spacing:0.56px;-webkit-text-stroke:0.4px #5f6c7c;">Container</div>
<div class="t" style="left:654.3px;top:1086.40px;font-size:16px;line-height:16px;color:#00857d;">4</div>
<div class="t" style="left:731.8px;top:1086.40px;font-size:16px;line-height:16px;color:#1b2433;">Global</div>
<div class="t" style="left:904.3px;top:1086.40px;font-size:16px;line-height:16px;color:#00857d;letter-spacing:0.26px;">Dunder-Mifflin, Inc.</div>
<div class="t" style="left:1066.5px;top:1086.40px;font-size:16px;line-height:16px;color:#00857d;letter-spacing:0.5px;">DM-Buffalo</div>
<svg style="position:absolute;left:1209.5px;top:1093.3px;" width="12" height="4" viewBox="0 0 12 4"><line x1="0.6" y1="2" x2="11.4" y2="2" stroke="#1b2433" stroke-width="1.4" stroke-linecap="round"/></svg>
<svg style="position:absolute;left:1336px;top:1093.3px;" width="12" height="4" viewBox="0 0 12 4"><line x1="0.6" y1="2" x2="11.4" y2="2" stroke="#1b2433" stroke-width="1.4" stroke-linecap="round"/></svg>
<svg style="position:absolute;left:1485px;top:1093.3px;" width="12" height="4" viewBox="0 0 12 4"><line x1="0.6" y1="2" x2="11.4" y2="2" stroke="#1b2433" stroke-width="1.4" stroke-linecap="round"/></svg>
<div style="position:absolute;left:1639.5px;top:1082.8999999999999px;width:23px;height:25.6px;background:#00857d;border-radius:4px;"></div>
<svg style="position:absolute;left:1645px;top:1088.8999999999999px;" width="12" height="13" viewBox="0 0 12 13"><g fill="none" stroke="#fff" stroke-width="1.2"><path d="M1 9.5 V2 A1.2 1.2 0 0 1 2.2 0.8 H7.5"/><rect x="2.9" y="2.9" width="7.6" height="9" rx="1"/></g></svg>
<div style="position:absolute;left:1665.4px;top:1082.8999999999999px;width:41px;height:25.6px;background:#f76707;border-radius:4px;"></div>
<svg style="position:absolute;left:1670px;top:1088.3999999999999px;" width="14" height="12" viewBox="0 0 14 12"><path d="M2.4 10.2 L8.6 4.0" stroke="#fff" stroke-width="2.5" stroke-linecap="round"/><path d="M9.9 2.7 L10.8 1.8" stroke="#fff" stroke-width="2.5" stroke-linecap="round"/></svg>
<svg style="position:absolute;left:1693px;top:1092.8999999999999px;" width="8.8" height="5.8" viewBox="0 0 8.8 5.8"><polyline points="1,1 4.4,4.8 7.8,1" fill="none" stroke="#ffffff" stroke-width="1.1" stroke-linecap="round" stroke-linejoin="round"/></svg>
<div style="position:absolute;left:330px;top:1116.8px;width:1385px;height:1px;background:#e6e9ee;"></div>
<div style="position:absolute;left:338.5px;top:1126.1px;width:22px;height:22px;background:#fff;border:1px solid #dfe3e8;border-radius:5px;box-sizing:border-box;box-shadow:0 1px 1.5px rgba(0,0,0,0.07);"></div>
<svg style="position:absolute;left:378.9px;top:1136.4px;" width="6" height="6" viewBox="0 0 6 6"><circle cx="3" cy="3" r="2.6" fill="#a3a8b0"/></svg>
<svg style="position:absolute;left:390.34999999999997px;top:1136.4px;" width="6" height="6" viewBox="0 0 6 6"><circle cx="3" cy="3" r="2.6" fill="#a3a8b0"/></svg>
<svg style="position:absolute;left:401.79999999999995px;top:1136.4px;" width="6" height="6" viewBox="0 0 6 6"><circle cx="3" cy="3" r="2.6" fill="#a3a8b0"/></svg>
<div class="t" style="left:416px;top:1130.30px;font-size:16px;line-height:16px;color:#00857d;letter-spacing:-0.279px;">10.112.140.0/28</div>
<div style="position:absolute;left:552.9px;top:1127.1px;width:57px;height:21.3px;background:#0054a6;border-radius:4px;"></div>
<div class="t" style="left:559.9px;top:1131.30px;font-size:14px;line-height:14px;color:#fff;letter-spacing:0.62px;-webkit-text-stroke:0.45px #fff;">Active</div>
<div class="t" style="left:654.3px;top:1130.30px;font-size:16px;line-height:16px;color:#1b2433;">0</div>
<div class="t" style="left:731.8px;top:1130.30px;font-size:16px;line-height:16px;color:#1b2433;">Global</div>
<div class="t" style="left:904.3px;top:1130.30px;font-size:16px;line-height:16px;color:#00857d;letter-spacing:0.26px;">Dunder-Mifflin, Inc.</div>
<div class="t" style="left:1066.5px;top:1130.30px;font-size:16px;line-height:16px;color:#00857d;letter-spacing:0.5px;">DM-Buffalo</div>
<svg style="position:absolute;left:1209.5px;top:1137.2px;" width="12" height="4" viewBox="0 0 12 4"><line x1="0.6" y1="2" x2="11.4" y2="2" stroke="#1b2433" stroke-width="1.4" stroke-linecap="round"/></svg>
<div class="t" style="left:1335px;top:1130.30px;font-size:16px;line-height:16px;color:#00857d;letter-spacing:0.19px;">Management</div>
<svg style="position:absolute;left:1485px;top:1137.2px;" width="12" height="4" viewBox="0 0 12 4"><line x1="0.6" y1="2" x2="11.4" y2="2" stroke="#1b2433" stroke-width="1.4" stroke-linecap="round"/></svg>
<div style="position:absolute;left:1639.5px;top:1126.8px;width:23px;height:25.6px;background:#00857d;border-radius:4px;"></div>
<svg style="position:absolute;left:1645px;top:1132.8px;" width="12" height="13" viewBox="0 0 12 13"><g fill="none" stroke="#fff" stroke-width="1.2"><path d="M1 9.5 V2 A1.2 1.2 0 0 1 2.2 0.8 H7.5"/><rect x="2.9" y="2.9" width="7.6" height="9" rx="1"/></g></svg>
<div style="position:absolute;left:1665.4px;top:1126.8px;width:41px;height:25.6px;background:#f76707;border-radius:4px;"></div>
<svg style="position:absolute;left:1670px;top:1132.3px;" width="14" height="12" viewBox="0 0 14 12"><path d="M2.4 10.2 L8.6 4.0" stroke="#fff" stroke-width="2.5" stroke-linecap="round"/><path d="M9.9 2.7 L10.8 1.8" stroke="#fff" stroke-width="2.5" stroke-linecap="round"/></svg>
<svg style="position:absolute;left:1693px;top:1136.8px;" width="8.8" height="5.8" viewBox="0 0 8.8 5.8"><polyline points="1,1 4.4,4.8 7.8,1" fill="none" stroke="#ffffff" stroke-width="1.1" stroke-linecap="round" stroke-linejoin="round"/></svg>
</body></html>
